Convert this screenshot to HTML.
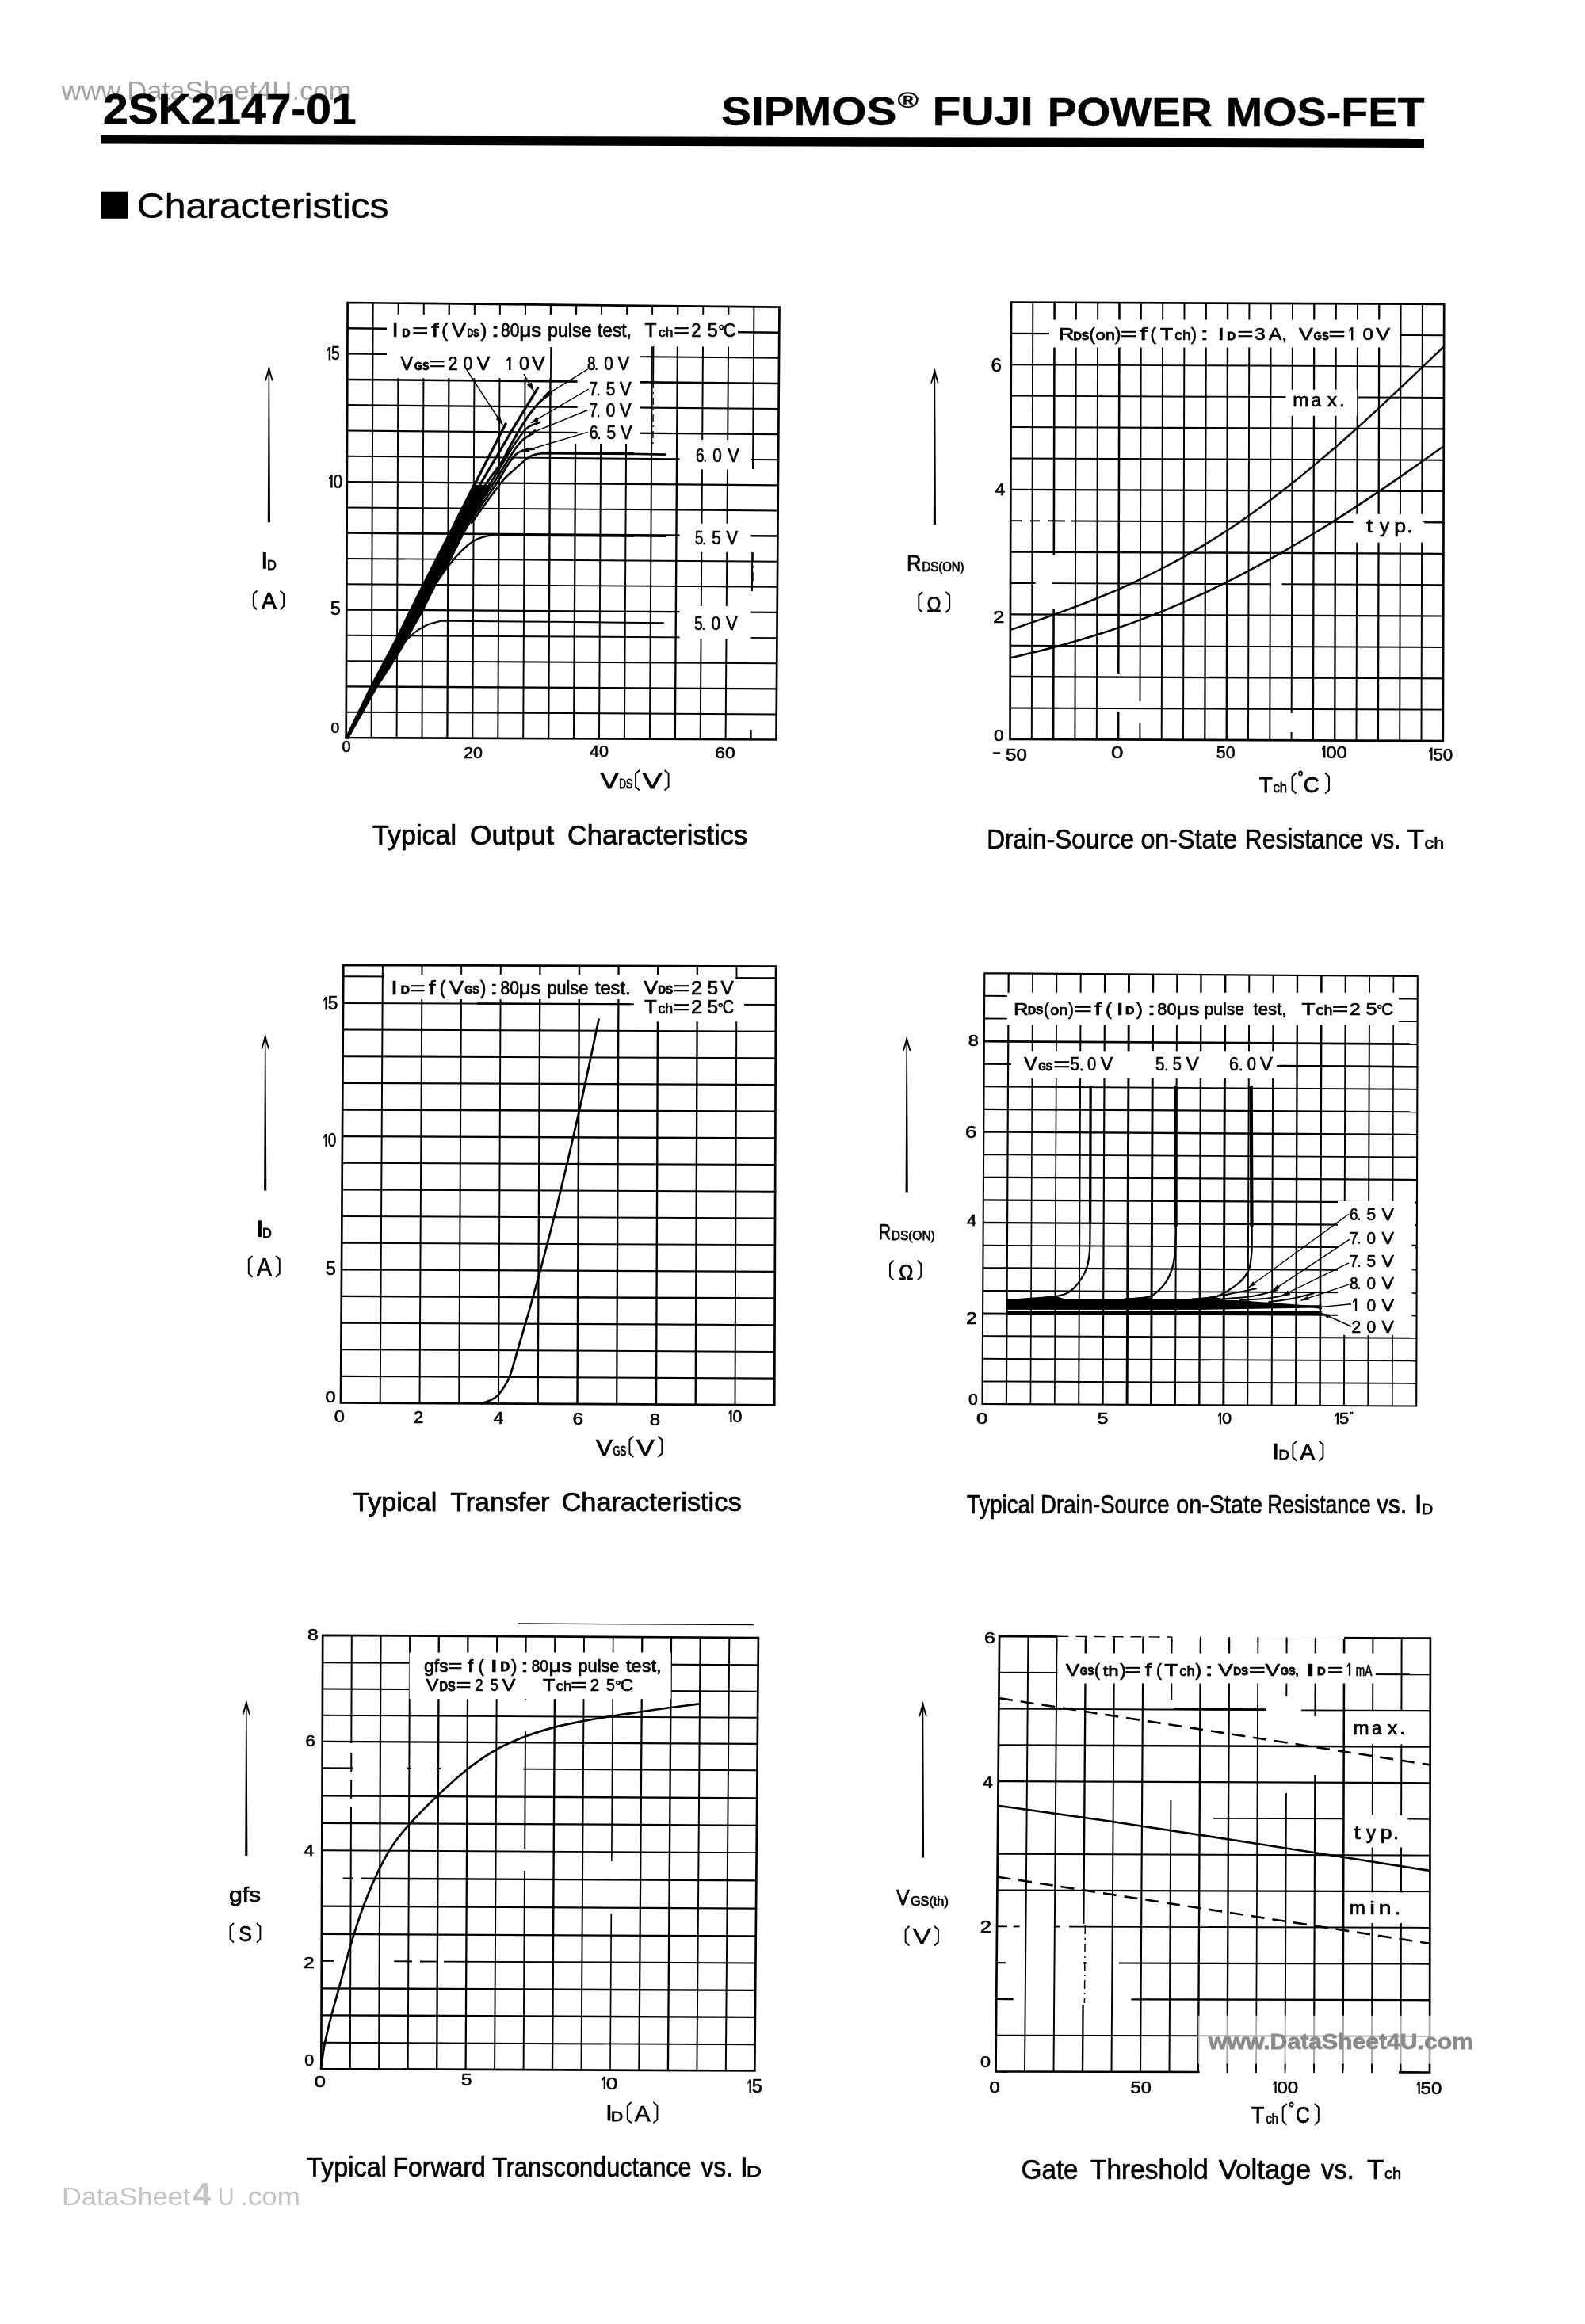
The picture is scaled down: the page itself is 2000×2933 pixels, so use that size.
<!DOCTYPE html>
<html><head><meta charset="utf-8"><title>2SK2147-01</title>
<style>html,body{margin:0;padding:0;background:#fff}svg{display:block;filter:grayscale(1)}text{font-family:"Liberation Sans",sans-serif}</style></head>
<body>
<svg width="2000" height="2933" viewBox="0 0 2000 2933">
<rect width="2000" height="2933" fill="#fff"/>
<!-- header -->
<text x="77.5" y="125.7" font-size="33" textLength="366" lengthAdjust="spacingAndGlyphs" fill="#a4a4a4">www.DataSheet4U.com</text>
<text x="130" y="155.7" font-size="52.8" stroke="#000" stroke-width="0.6" textLength="319.6" lengthAdjust="spacingAndGlyphs" font-weight="bold">2SK2147-01</text>
<text x="910" y="158" font-size="50.7" stroke="#000" stroke-width="0.4" textLength="221.4" lengthAdjust="spacingAndGlyphs" font-weight="bold">SIPMOS</text>
<text x="1132.5" y="136.4" font-size="27" stroke="#000" stroke-width="0.3" textLength="26.5" lengthAdjust="spacingAndGlyphs" font-weight="bold">®</text>
<text x="1176.4" y="158.3" font-size="50.7" stroke="#000" stroke-width="0.4" textLength="127.5" lengthAdjust="spacingAndGlyphs" font-weight="bold">FUJI</text>
<text x="1321.7" y="158.6" font-size="50.7" stroke="#000" stroke-width="0.4" textLength="208" lengthAdjust="spacingAndGlyphs" font-weight="bold">POWER</text>
<text x="1546.7" y="159" font-size="50.7" stroke="#000" stroke-width="0.4" textLength="250.9" lengthAdjust="spacingAndGlyphs" font-weight="bold">MOS-FET</text>
<polygon points="127,170.9 1797,174.7 1797,187 127,181.6" fill="#000"/>
<rect x="128" y="241.7" width="33" height="34.1" fill="#000"/>
<text x="173" y="274.5" font-size="44" stroke="#000" stroke-width="0.5" textLength="317.6" lengthAdjust="spacingAndGlyphs">Characteristics</text>
<!-- chart 1 -->
<line x1="468.6" y1="931.1" x2="470.7" y2="382.3" stroke="#000" stroke-width="1.9500000000000002"/>
<line x1="500.6" y1="931.3" x2="502.7" y2="382.7" stroke="#000" stroke-width="1.9500000000000002"/>
<line x1="532.5" y1="931.4" x2="534.8" y2="383" stroke="#000" stroke-width="1.9500000000000002"/>
<line x1="564.4" y1="931.6" x2="566.8" y2="383.3" stroke="#000" stroke-width="2.25"/>
<line x1="596.3" y1="931.7" x2="598.9" y2="383.6" stroke="#000" stroke-width="1.9500000000000002"/>
<line x1="628.3" y1="931.9" x2="630.9" y2="384" stroke="#000" stroke-width="1.9500000000000002"/>
<line x1="660.2" y1="932" x2="663" y2="384.3" stroke="#000" stroke-width="1.9500000000000002"/>
<line x1="692.1" y1="932.2" x2="695" y2="384.6" stroke="#000" stroke-width="2.35"/>
<line x1="724.1" y1="932.3" x2="726.1" y2="560" stroke="#000" stroke-width="2.25"/>
<line x1="727" y1="397" x2="727.1" y2="385" stroke="#000" stroke-width="2.25"/>
<line x1="756" y1="932.5" x2="758.1" y2="560" stroke="#000" stroke-width="1.9500000000000002"/>
<line x1="759.1" y1="397" x2="759.1" y2="385.3" stroke="#000" stroke-width="1.9500000000000002"/>
<line x1="787.9" y1="932.6" x2="790.1" y2="560" stroke="#000" stroke-width="1.9500000000000002"/>
<line x1="791.1" y1="397" x2="791.2" y2="385.6" stroke="#000" stroke-width="1.9500000000000002"/>
<line x1="819.9" y1="932.8" x2="823.2" y2="386" stroke="#000" stroke-width="1.9500000000000002"/>
<line x1="851.8" y1="932.9" x2="855.3" y2="386.3" stroke="#000" stroke-width="2.35"/>
<line x1="883.7" y1="933.1" x2="887.3" y2="386.6" stroke="#000" stroke-width="1.9500000000000002"/>
<line x1="915.6" y1="933.2" x2="919.4" y2="386.9" stroke="#000" stroke-width="1.9500000000000002"/>
<line x1="947.6" y1="933.4" x2="947.7" y2="921" stroke="#000" stroke-width="1.9500000000000002"/>
<line x1="948.9" y1="746" x2="949.2" y2="697" stroke="#000" stroke-width="1.9500000000000002"/>
<line x1="950" y1="592" x2="951.4" y2="387.3" stroke="#000" stroke-width="1.9500000000000002"/>
<line x1="436.8" y1="898.7" x2="979.7" y2="901.4" stroke="#000" stroke-width="1.9500000000000002"/>
<line x1="436.9" y1="866.4" x2="980" y2="869.3" stroke="#000" stroke-width="2.35"/>
<line x1="437" y1="834.1" x2="980.2" y2="837.2" stroke="#000" stroke-width="1.9500000000000002"/>
<line x1="437.1" y1="801.8" x2="980.4" y2="805.1" stroke="#000" stroke-width="1.9500000000000002"/>
<line x1="437.3" y1="769.5" x2="980.7" y2="772.9" stroke="#000" stroke-width="2.25"/>
<line x1="437.4" y1="737.2" x2="980.9" y2="740.8" stroke="#000" stroke-width="1.9500000000000002"/>
<line x1="437.5" y1="704.9" x2="981.1" y2="708.7" stroke="#000" stroke-width="1.9500000000000002"/>
<line x1="437.6" y1="672.6" x2="981.4" y2="676.6" stroke="#000" stroke-width="2.5500000000000003"/>
<line x1="437.7" y1="640.4" x2="981.6" y2="644.5" stroke="#000" stroke-width="1.9500000000000002"/>
<line x1="437.8" y1="608.1" x2="981.9" y2="612.4" stroke="#000" stroke-width="2.35"/>
<line x1="437.9" y1="575.8" x2="982.1" y2="580.3" stroke="#000" stroke-width="1.9500000000000002"/>
<line x1="438" y1="543.5" x2="982.3" y2="548.2" stroke="#000" stroke-width="2.25"/>
<line x1="438.2" y1="511.2" x2="982.6" y2="516" stroke="#000" stroke-width="2.25"/>
<line x1="438.3" y1="478.9" x2="982.8" y2="483.9" stroke="#000" stroke-width="2.5500000000000003"/>
<line x1="438.4" y1="446.6" x2="983" y2="451.8" stroke="#000" stroke-width="1.9500000000000002"/>
<line x1="438.5" y1="414.3" x2="983.3" y2="419.7" stroke="#000" stroke-width="2.5500000000000003"/>
<rect x="488" y="397" width="443" height="40.5" fill="#fff"/>
<rect x="488" y="437" width="320" height="40.2" fill="#fff"/>
<rect x="728.6" y="437" width="79.4" height="123" fill="#fff"/>
<rect x="857.6" y="555" width="90.4" height="37.5" fill="#fff"/>
<rect x="857.6" y="660.8" width="89.9" height="36" fill="#fff"/>
<rect x="857.6" y="765" width="89.9" height="41.5" fill="#fff"/>
<line x1="695.2" y1="438" x2="694.9" y2="478" stroke="#000" stroke-width="1.8"/>
<line x1="824.6" y1="437" x2="824.3" y2="481" stroke="#000" stroke-width="1.6"/>
<line x1="824.3" y1="481" x2="824" y2="560" stroke="#000" stroke-width="1.4" stroke-dasharray="9 5 2 5"/>
<line x1="950" y1="697" x2="949.8" y2="746" stroke="#000" stroke-width="1.6" stroke-dasharray="12 5 3 5"/>
<polygon points="438.6,382 983.5,387.6 979.5,933.5 436.7,931" fill="none" stroke="#000" stroke-width="2.7"/>
<polygon points="434.3,932 436.1,929.6 467.3,865.3 499.5,804.7 531.7,739.4 550.6,702.5 582.8,640 596.5,612 621,612 604.6,640 601.7,645.7 586.6,672.2 569.5,706.2 550.6,738.4 533.6,772.5 516.5,802.8 501.4,829.3 476.8,867.1 441.5,929.6 439.5,933" fill="#000"/>
<path d="M574 660C578.3 651.5 589.2 630.3 600 609.3C610.8 588.3 632.2 546.4 638.6 533.8" fill="none" stroke="#000" stroke-width="3.3" stroke-linecap="butt"/>
<path d="M577.5 660C582.4 651.6 595.4 629.3 607 609.5C618.6 589.7 637.7 557.2 647.1 541.4C656.5 525.6 657.8 523.7 663.2 514.9C668.6 506.1 676.6 492.8 679.3 488.4" fill="none" stroke="#000" stroke-width="3.2" stroke-linecap="butt"/>
<path d="M581 660C586.5 651.6 605.5 622 614 609.5C622.5 597 626.7 593.1 631.9 584.9C637.1 576.7 640.8 568.2 645.2 560.3C649.6 552.4 654.3 544.2 658.4 537.6C662.5 531 666 525.6 669.8 520.6C673.6 515.6 676.9 511.4 681.1 507.3C685.4 503.2 692.9 497.9 695.3 496" fill="none" stroke="#000" stroke-width="3.0" stroke-linecap="round"/>
<path d="M584.5 660C590.2 651.6 609.2 624.5 619 609.5C628.8 594.5 637.4 579.3 643.3 569.8C649.2 560.3 650.8 557.8 654.6 552.7C658.4 547.7 661.6 542.8 666 539.5C670.4 536.2 678.6 534 681.1 532.9" fill="none" stroke="#000" stroke-width="2.7" stroke-linecap="round"/>
<path d="M588 660C593.8 651.6 612.8 624.9 623 609.5C633.2 594.1 642.8 577 649 567.9C655.2 558.8 655.9 558.4 660.3 554.6C664.7 550.8 673 546.8 675.5 545.2" fill="none" stroke="#000" stroke-width="2.7" stroke-linecap="round"/>
<path d="M591.5 660C597.4 651.6 619 621.4 627 609.5C635 597.6 635.5 594.7 639.5 588.7C643.5 582.7 647 577.1 650.9 573.6C654.8 570.1 659.2 568.6 663 567.5C666.8 566.4 671.8 567.1 673.6 567" fill="none" stroke="#000" stroke-width="2.7" stroke-linecap="round"/>
<path d="M595 660C601.2 651.6 623.3 620.4 632 609.5C640.7 598.6 642.1 599.1 647.1 594.4C652.1 589.7 658.1 584.4 662.2 581.1C666.3 577.8 668.2 576.3 671.7 574.8C675.2 573.3 678.3 572.7 683 572.2C687.7 571.7 687.2 571.8 700 571.8C712.8 571.8 736.8 571.9 760 572.2C783.2 572.5 826 573.4 839.2 573.6" fill="none" stroke="#000" stroke-width="2.6" stroke-linecap="round"/>
<line x1="683" y1="571.9" x2="800" y2="572.6" stroke="#000" stroke-width="3.4"/>
<path d="M540 752C542.1 748.8 547.9 739.4 552.5 732.7C557.1 726 562.6 718.2 567.6 711.9C572.6 705.6 577.8 699.8 582.8 694.9C587.8 690 593.5 685.4 597.9 682.6C602.3 679.8 605.5 679.1 609.3 677.9C613.1 676.7 615.5 676 620.6 675.6C625.7 675.2 620.1 675.2 640 675.2C659.9 675.2 706.8 675.5 740 675.8C773.2 676.1 822.5 676.6 839 676.8" fill="none" stroke="#000" stroke-width="2.4" stroke-linecap="round"/>
<line x1="622" y1="675.3" x2="800" y2="676.3" stroke="#000" stroke-width="3.0"/>
<path d="M498 832C499.7 829 504 819.6 508 814.1C512 808.6 517.3 803.1 522.2 799C527.1 794.9 532.4 791.9 537.4 789.5C542.4 787.1 547.1 785.8 552.5 784.8C557.9 783.8 545.4 783.8 570 783.8C594.6 783.8 655.5 784.4 700 784.8C744.5 785.2 814.2 786 837 786.3" fill="none" stroke="#000" stroke-width="2.0" stroke-linecap="round"/>
<text x="494.5" y="424.9" font-size="24.5" stroke="#000" stroke-width="0.7" textLength="8.2" lengthAdjust="spacingAndGlyphs">I</text>
<text x="507.3" y="424.5" font-size="14" stroke="#000" stroke-width="0.8" textLength="10.3" lengthAdjust="spacingAndGlyphs" font-weight="bold">D</text>
<text x="520.3" y="424.9" font-size="24.5" stroke="#000" stroke-width="0.7" textLength="19.9" lengthAdjust="spacingAndGlyphs">=</text>
<text x="544.3" y="424.9" font-size="24.5" stroke="#000" stroke-width="0.7" textLength="9.3" lengthAdjust="spacingAndGlyphs">f</text>
<text x="557.3" y="424.9" font-size="24.5" stroke="#000" stroke-width="0.7" textLength="7.9" lengthAdjust="spacingAndGlyphs">(</text>
<text x="569.9" y="424.9" font-size="24.5" stroke="#000" stroke-width="0.7" textLength="18" lengthAdjust="spacingAndGlyphs">V</text>
<text x="589.6" y="424.5" font-size="14" stroke="#000" stroke-width="0.8" textLength="14.8" lengthAdjust="spacingAndGlyphs" font-weight="bold">DS</text>
<text x="606.6" y="424.9" font-size="24.5" stroke="#000" stroke-width="0.7" textLength="7.9" lengthAdjust="spacingAndGlyphs">)</text>
<text x="619.4" y="424.9" font-size="24.5" stroke="#000" stroke-width="0.7" textLength="11.1" lengthAdjust="spacingAndGlyphs">:</text>
<text x="632.1" y="424.9" font-size="24.5" stroke="#000" stroke-width="0.7" textLength="23.3" lengthAdjust="spacingAndGlyphs">80</text>
<text x="655.3" y="424.9" font-size="24.5" stroke="#000" stroke-width="0.7" textLength="28" lengthAdjust="spacingAndGlyphs">μs</text>
<text x="691" y="424.9" font-size="24.5" stroke="#000" stroke-width="0.7" textLength="55.6" lengthAdjust="spacingAndGlyphs">pulse</text>
<text x="754" y="424.9" font-size="24.5" stroke="#000" stroke-width="0.7" textLength="42.8" lengthAdjust="spacingAndGlyphs">test,</text>
<text x="813.5" y="424.9" font-size="24.5" stroke="#000" stroke-width="0.7" textLength="15" lengthAdjust="spacingAndGlyphs">T</text>
<text x="831.1" y="424.9" font-size="16.5" stroke="#000" stroke-width="0.7" textLength="18.2" lengthAdjust="spacingAndGlyphs">ch</text>
<text x="850.3" y="424.9" font-size="24.5" stroke="#000" stroke-width="0.7" textLength="19.7" lengthAdjust="spacingAndGlyphs">=</text>
<text x="872.3" y="424.9" font-size="24.5" stroke="#000" stroke-width="0.7" textLength="12.3" lengthAdjust="spacingAndGlyphs">2</text>
<text x="892.6" y="424.9" font-size="24.5" stroke="#000" stroke-width="0.7" textLength="13.3" lengthAdjust="spacingAndGlyphs">5</text>
<text x="906.4" y="424.9" font-size="20" stroke="#000" stroke-width="0.7" textLength="7.6" lengthAdjust="spacingAndGlyphs">°</text>
<text x="912.7" y="424.9" font-size="24.5" stroke="#000" stroke-width="0.7" textLength="15.8" lengthAdjust="spacingAndGlyphs">C</text>
<text x="505.6" y="467" font-size="23" stroke="#000" stroke-width="0.7" textLength="15.5" lengthAdjust="spacingAndGlyphs">V</text>
<text x="522.9" y="466.6" font-size="14" stroke="#000" stroke-width="0.8" textLength="18.6" lengthAdjust="spacingAndGlyphs" font-weight="bold">GS</text>
<text x="541.9" y="467" font-size="23" stroke="#000" stroke-width="0.7" textLength="19.7" lengthAdjust="spacingAndGlyphs">=</text>
<text x="565.2" y="467" font-size="23" stroke="#000" stroke-width="0.7" textLength="12.3" lengthAdjust="spacingAndGlyphs">2</text>
<text x="584.4" y="467" font-size="23" stroke="#000" stroke-width="0.7" textLength="11.7" lengthAdjust="spacingAndGlyphs">0</text>
<text x="601.5" y="467" font-size="23" stroke="#000" stroke-width="0.7" textLength="16.7" lengthAdjust="spacingAndGlyphs">V</text>
<polygon points="642.1,450.5 644.5,450.5 644.5,467 642.1,467 642.1,454.1 639,456.5 639,454.5" fill="#000"/>
<text x="655" y="467" font-size="23" stroke="#000" stroke-width="0.7" textLength="13.1" lengthAdjust="spacingAndGlyphs">0</text>
<text x="670.9" y="467" font-size="23" stroke="#000" stroke-width="0.7" textLength="16.7" lengthAdjust="spacingAndGlyphs">V</text>
<text x="740.9" y="467" font-size="23" stroke="#000" stroke-width="0.7" textLength="10.4" lengthAdjust="spacingAndGlyphs">8</text>
<rect x="751.5" y="464.5" width="2.2" height="2.5" fill="#000"/>
<text x="762.2" y="467" font-size="23" stroke="#000" stroke-width="0.7" textLength="11.5" lengthAdjust="spacingAndGlyphs">0</text>
<text x="779.6" y="467" font-size="23" stroke="#000" stroke-width="0.7" textLength="14.6" lengthAdjust="spacingAndGlyphs">V</text>
<text x="743.2" y="499.1" font-size="23" stroke="#000" stroke-width="0.7" textLength="10.8" lengthAdjust="spacingAndGlyphs">7</text>
<rect x="754" y="496.6" width="2.2" height="2.5" fill="#000"/>
<text x="764.7" y="499.1" font-size="23" stroke="#000" stroke-width="0.7" textLength="11.6" lengthAdjust="spacingAndGlyphs">5</text>
<text x="782.1" y="499.1" font-size="23" stroke="#000" stroke-width="0.7" textLength="14.6" lengthAdjust="spacingAndGlyphs">V</text>
<text x="743.2" y="526.4" font-size="23" stroke="#000" stroke-width="0.7" textLength="10.8" lengthAdjust="spacingAndGlyphs">7</text>
<rect x="754" y="523.9" width="2.2" height="2.5" fill="#000"/>
<text x="764.7" y="526.4" font-size="23" stroke="#000" stroke-width="0.7" textLength="11.5" lengthAdjust="spacingAndGlyphs">0</text>
<text x="782.1" y="526.4" font-size="23" stroke="#000" stroke-width="0.7" textLength="14.6" lengthAdjust="spacingAndGlyphs">V</text>
<text x="744.1" y="554.1" font-size="23" stroke="#000" stroke-width="0.7" textLength="10.5" lengthAdjust="spacingAndGlyphs">6</text>
<rect x="754.8" y="551.6" width="2.2" height="2.5" fill="#000"/>
<text x="765.5" y="554.1" font-size="23" stroke="#000" stroke-width="0.7" textLength="11.6" lengthAdjust="spacingAndGlyphs">5</text>
<text x="782.9" y="554.1" font-size="23" stroke="#000" stroke-width="0.7" textLength="14.6" lengthAdjust="spacingAndGlyphs">V</text>
<text x="877.9" y="582.6" font-size="23" stroke="#000" stroke-width="0.7" textLength="10.5" lengthAdjust="spacingAndGlyphs">6</text>
<rect x="888.6" y="580.1" width="2.2" height="2.5" fill="#000"/>
<text x="899.3" y="582.6" font-size="23" stroke="#000" stroke-width="0.7" textLength="11.5" lengthAdjust="spacingAndGlyphs">0</text>
<text x="918.2" y="582.6" font-size="23" stroke="#000" stroke-width="0.7" textLength="14.6" lengthAdjust="spacingAndGlyphs">V</text>
<text x="877" y="687.3" font-size="23" stroke="#000" stroke-width="0.7" textLength="10.3" lengthAdjust="spacingAndGlyphs">5</text>
<rect x="887.5" y="684.8" width="2.2" height="2.5" fill="#000"/>
<text x="898.2" y="687.3" font-size="23" stroke="#000" stroke-width="0.7" textLength="11.6" lengthAdjust="spacingAndGlyphs">5</text>
<text x="916.4" y="687.3" font-size="23" stroke="#000" stroke-width="0.7" textLength="14.6" lengthAdjust="spacingAndGlyphs">V</text>
<text x="876.2" y="795" font-size="23" stroke="#000" stroke-width="0.7" textLength="10.3" lengthAdjust="spacingAndGlyphs">5</text>
<rect x="886.7" y="792.5" width="2.2" height="2.5" fill="#000"/>
<text x="897.4" y="795" font-size="23" stroke="#000" stroke-width="0.7" textLength="11.5" lengthAdjust="spacingAndGlyphs">0</text>
<text x="916.1" y="795" font-size="23" stroke="#000" stroke-width="0.7" textLength="14.6" lengthAdjust="spacingAndGlyphs">V</text>
<line x1="589" y1="467" x2="634.4" y2="536.5" stroke="#000" stroke-width="1.5"/>
<polygon points="634.4,536.5 625.7,529 631.1,525.5" fill="#000"/>
<line x1="660.9" y1="472.1" x2="673.5" y2="493.6" stroke="#000" stroke-width="1.5"/>
<polygon points="673.5,493.6 665,485.8 670.9,482.4" fill="#000"/>
<line x1="741.7" y1="465.8" x2="684.9" y2="501.1" stroke="#000" stroke-width="1.4"/>
<polygon points="684.9,501.1 692.7,492.7 695.8,497.8" fill="#000"/>
<line x1="742.9" y1="491" x2="669.7" y2="533.9" stroke="#000" stroke-width="1.4"/>
<polygon points="669.7,533.9 676.9,526.4 679.7,531.3" fill="#000"/>
<line x1="741.7" y1="517.5" x2="667.2" y2="547.8" stroke="#000" stroke-width="1.4"/>
<polygon points="667.2,547.8 675.4,541.4 677.5,546.6" fill="#000"/>
<line x1="741.7" y1="545.3" x2="657.1" y2="570.5" stroke="#000" stroke-width="1.4"/>
<polygon points="657.1,570.5 666.8,564.5 668.5,570.2" fill="#000"/>
<polygon points="414.7,437.9 417.1,437.9 417.1,454.4 414.7,454.4 414.7,441.5 412.5,443.9 412.5,441.9" fill="#000"/>
<text x="418.1" y="454.4" font-size="23" stroke="#000" stroke-width="0.6" textLength="10.7" lengthAdjust="spacingAndGlyphs">5</text>
<polygon points="417.2,599.1 419.6,599.1 419.6,615.6 417.2,615.6 417.2,602.7 415,605.1 415,603.1" fill="#000"/>
<text x="420.6" y="615.6" font-size="23" stroke="#000" stroke-width="0.6" textLength="11.7" lengthAdjust="spacingAndGlyphs">0</text>
<text x="416.8" y="776" font-size="23" stroke="#000" stroke-width="0.6" textLength="13.1" lengthAdjust="spacingAndGlyphs">5</text>
<text x="417.4" y="925.2" font-size="18" stroke="#000" stroke-width="0.6" textLength="10.7" lengthAdjust="spacingAndGlyphs">0</text>
<text x="431.4" y="949.4" font-size="20" stroke="#000" stroke-width="0.6" textLength="11.1" lengthAdjust="spacingAndGlyphs">0</text>
<text x="585.1" y="956.7" font-size="20.5" stroke="#000" stroke-width="0.6" textLength="23.9" lengthAdjust="spacingAndGlyphs">20</text>
<text x="744" y="955.4" font-size="20.5" stroke="#000" stroke-width="0.6" textLength="23.9" lengthAdjust="spacingAndGlyphs">40</text>
<text x="902.3" y="956.7" font-size="20.5" stroke="#000" stroke-width="0.6" textLength="25.5" lengthAdjust="spacingAndGlyphs">60</text>
<text x="757.7" y="994.6" font-size="27.4" stroke="#000" stroke-width="0.75" textLength="22.7" lengthAdjust="spacingAndGlyphs">V</text>
<text x="781.3" y="994.6" font-size="16.5" stroke="#000" stroke-width="0.9" textLength="16.6" lengthAdjust="spacingAndGlyphs">DS</text>
<path d="M807 972L802 976.5L802 993L807 997.5" fill="none" stroke="#000" stroke-width="1.9" stroke-linejoin="round"/>
<text x="810.7" y="994.6" font-size="27.4" stroke="#000" stroke-width="0.75" textLength="24.6" lengthAdjust="spacingAndGlyphs">V</text>
<path d="M838.6 972L843.6 976.5L843.6 993L838.6 997.5" fill="none" stroke="#000" stroke-width="1.9" stroke-linejoin="round"/>
<polygon points="338.7,463.3 340.1,463.3 341,659.2 337.8,659.2" fill="#000"/>
<polygon points="339.4,461.3 344.6,480.3 343,480.8 339.4,469.3 335.8,480.8 334.2,480.3" fill="#000"/>
<rect x="331.8" y="697" width="4" height="20.8" fill="#000"/>
<text x="337.2" y="718.6" font-size="16.7" stroke="#000" stroke-width="0.9" textLength="11.5" lengthAdjust="spacingAndGlyphs">D</text>
<path d="M324.3 745.5L319.8 750L319.8 764.9L324.3 769.4" fill="none" stroke="#000" stroke-width="1.9" stroke-linejoin="round"/>
<text x="330" y="767.7" font-size="28.9" stroke="#000" stroke-width="0.75" textLength="18.8" lengthAdjust="spacingAndGlyphs">A</text>
<path d="M353.6 745.5L358.1 750L358.1 764.9L353.6 769.4" fill="none" stroke="#000" stroke-width="1.9" stroke-linejoin="round"/>
<text x="470" y="1065.7" font-size="34.4" stroke="#000" stroke-width="0.75" textLength="106" lengthAdjust="spacingAndGlyphs">Typical</text>
<text x="593" y="1065.7" font-size="34.4" stroke="#000" stroke-width="0.75" textLength="106" lengthAdjust="spacingAndGlyphs">Output</text>
<text x="716" y="1065.7" font-size="34.4" stroke="#000" stroke-width="0.75" textLength="227.1" lengthAdjust="spacingAndGlyphs">Characteristics</text>
<!-- chart 2 -->
<line x1="1301.8" y1="932.9" x2="1303.3" y2="381.6" stroke="#000" stroke-width="1.9500000000000002"/>
<line x1="1329.1" y1="933" x2="1329.6" y2="768" stroke="#000" stroke-width="2.5500000000000003"/>
<line x1="1329.8" y1="700" x2="1330.6" y2="381.7" stroke="#000" stroke-width="2.5500000000000003"/>
<line x1="1356.4" y1="933.1" x2="1357.9" y2="381.8" stroke="#000" stroke-width="1.9500000000000002"/>
<line x1="1383.8" y1="933.2" x2="1385.2" y2="382" stroke="#000" stroke-width="1.9500000000000002"/>
<line x1="1411.1" y1="933.3" x2="1411.2" y2="898" stroke="#000" stroke-width="2.5500000000000003"/>
<line x1="1411.3" y1="850" x2="1412.5" y2="382.1" stroke="#000" stroke-width="2.5500000000000003"/>
<line x1="1438.4" y1="933.5" x2="1438.4" y2="912" stroke="#000" stroke-width="1.9500000000000002"/>
<line x1="1438.5" y1="885" x2="1439.9" y2="382.2" stroke="#000" stroke-width="1.9500000000000002"/>
<line x1="1465.7" y1="933.6" x2="1467.2" y2="382.3" stroke="#000" stroke-width="1.9500000000000002"/>
<line x1="1493" y1="933.7" x2="1494.5" y2="382.4" stroke="#000" stroke-width="1.9500000000000002"/>
<line x1="1520.3" y1="933.8" x2="1521.8" y2="382.5" stroke="#000" stroke-width="2.25"/>
<line x1="1547.7" y1="933.9" x2="1549.1" y2="382.6" stroke="#000" stroke-width="2.35"/>
<line x1="1575" y1="934" x2="1576.4" y2="382.8" stroke="#000" stroke-width="1.9500000000000002"/>
<line x1="1602.3" y1="934.1" x2="1603.7" y2="382.9" stroke="#000" stroke-width="1.9500000000000002"/>
<line x1="1629.6" y1="934.2" x2="1629.6" y2="924" stroke="#000" stroke-width="1.9500000000000002"/>
<line x1="1629.7" y1="900" x2="1631" y2="383" stroke="#000" stroke-width="1.9500000000000002"/>
<line x1="1656.9" y1="934.3" x2="1658.3" y2="383.1" stroke="#000" stroke-width="2.25"/>
<line x1="1684.2" y1="934.5" x2="1685.7" y2="383.2" stroke="#000" stroke-width="2.35"/>
<line x1="1711.5" y1="934.6" x2="1713" y2="383.3" stroke="#000" stroke-width="1.9500000000000002"/>
<line x1="1738.9" y1="934.7" x2="1740.3" y2="383.5" stroke="#000" stroke-width="2.25"/>
<line x1="1766.2" y1="934.8" x2="1767.6" y2="383.6" stroke="#000" stroke-width="1.9500000000000002"/>
<line x1="1793.5" y1="934.9" x2="1794.9" y2="383.7" stroke="#000" stroke-width="1.9500000000000002"/>
<line x1="1274.6" y1="893.4" x2="1820.9" y2="895.6" stroke="#000" stroke-width="1.9500000000000002"/>
<line x1="1274.7" y1="854" x2="1821" y2="856.3" stroke="#000" stroke-width="2.35"/>
<line x1="1274.8" y1="814.7" x2="1821.1" y2="816.9" stroke="#000" stroke-width="1.9500000000000002"/>
<line x1="1274.9" y1="775.3" x2="1821.2" y2="777.5" stroke="#000" stroke-width="2.15"/>
<line x1="1275" y1="735.9" x2="1306.5" y2="736" stroke="#000" stroke-width="1.9500000000000002"/>
<line x1="1328" y1="736.1" x2="1603.8" y2="737.3" stroke="#000" stroke-width="1.9500000000000002"/>
<line x1="1617.5" y1="737.3" x2="1821.3" y2="738.1" stroke="#000" stroke-width="1.9500000000000002"/>
<line x1="1275.1" y1="696.5" x2="1821.4" y2="698.8" stroke="#000" stroke-width="2.35"/>
<line x1="1275.2" y1="657.1" x2="1290" y2="657.2" stroke="#000" stroke-width="1.9500000000000002"/>
<line x1="1300" y1="657.3" x2="1312" y2="657.3" stroke="#000" stroke-width="1.9500000000000002"/>
<line x1="1322" y1="657.3" x2="1344" y2="657.4" stroke="#000" stroke-width="1.9500000000000002"/>
<line x1="1352" y1="657.5" x2="1821.5" y2="659.4" stroke="#000" stroke-width="1.9500000000000002"/>
<line x1="1275.4" y1="617.8" x2="1821.6" y2="620" stroke="#000" stroke-width="2.15"/>
<line x1="1275.5" y1="578.4" x2="1821.7" y2="580.7" stroke="#000" stroke-width="1.9500000000000002"/>
<line x1="1275.6" y1="539" x2="1821.8" y2="541.3" stroke="#000" stroke-width="2.15"/>
<line x1="1275.7" y1="499.6" x2="1821.9" y2="501.9" stroke="#000" stroke-width="1.9500000000000002"/>
<line x1="1275.8" y1="460.3" x2="1822" y2="462.5" stroke="#000" stroke-width="1.85"/>
<line x1="1275.9" y1="420.9" x2="1822.1" y2="423.2" stroke="#000" stroke-width="2.15"/>
<rect x="1324" y="403.5" width="442.5" height="35" fill="#fff"/>
<rect x="1622.5" y="491.7" width="89.7" height="33.1" fill="#fff"/>
<rect x="1707.6" y="648.8" width="89.7" height="35.9" fill="#fff"/>
<line x1="1794.8" y1="657.8" x2="1822" y2="657.9" stroke="#000" stroke-width="1.8"/>
<polygon points="1276,381.5 1822.2,383.8 1820.8,935 1274.5,932.8" fill="none" stroke="#000" stroke-width="2.7"/>
<path d="M1276 794.6C1282.5 792.4 1302 785.7 1315 781.1C1328 776.5 1341 771.8 1354 766.9C1367 762 1380 756.9 1393 751.5C1406 746.1 1419.1 740.4 1432.1 734.3C1445.1 728.2 1458.1 721.8 1471.1 715C1484.1 708.2 1497.1 701 1510.1 693.3C1523.1 685.6 1536.1 677.5 1549.1 669C1562.1 660.5 1575.1 651.4 1588.1 642C1601.1 632.6 1614.1 622.7 1627.1 612.5C1640.1 602.3 1653.1 591.6 1666.1 580.6C1679.1 569.6 1692.2 558.3 1705.2 546.7C1718.2 535.1 1731.2 523.2 1744.2 511.1C1757.2 499 1770.2 486.6 1783.2 474.3C1796.2 462 1815.7 443.3 1822.2 437.1" fill="none" stroke="#000" stroke-width="2.5" stroke-linecap="butt"/>
<path d="M1276 830.1C1282.5 828.5 1302 824.1 1315 820.8C1328 817.5 1341 814 1354 810.3C1367 806.5 1380 802.5 1393 798.3C1406 794 1419.1 789.6 1432.1 784.8C1445.1 780 1458.1 775 1471.1 769.6C1484.1 764.2 1497.1 758.6 1510.1 752.7C1523.1 746.8 1536.1 740.5 1549.1 734C1562.1 727.5 1575.1 720.8 1588.1 713.7C1601.1 706.7 1614.1 699.3 1627.1 691.7C1640.1 684.1 1653.1 676.3 1666.1 668.3C1679.1 660.2 1692.2 651.9 1705.2 643.4C1718.2 634.9 1731.2 626.2 1744.2 617.4C1757.2 608.6 1770.2 599.5 1783.2 590.4C1796.2 581.3 1815.7 567.3 1822.2 562.7" fill="none" stroke="#000" stroke-width="2.5" stroke-linecap="butt"/>
<text x="1335.8" y="429.3" font-size="22.7" stroke="#000" stroke-width="0.7" textLength="19.7" lengthAdjust="spacingAndGlyphs">R</text>
<text x="1354.5" y="428.9" font-size="15" stroke="#000" stroke-width="0.8" textLength="19.8" lengthAdjust="spacingAndGlyphs" font-weight="bold">DS</text>
<text x="1374.4" y="429.3" font-size="22.7" stroke="#000" stroke-width="0.7" textLength="7.3" lengthAdjust="spacingAndGlyphs">(</text>
<text x="1382.4" y="429.3" font-size="18.5" stroke="#000" stroke-width="0.7" textLength="24.7" lengthAdjust="spacingAndGlyphs">on</text>
<text x="1406.9" y="429.3" font-size="22.7" stroke="#000" stroke-width="0.7" textLength="7.4" lengthAdjust="spacingAndGlyphs">)</text>
<text x="1414.1" y="429.3" font-size="22.7" stroke="#000" stroke-width="0.7" textLength="20.2" lengthAdjust="spacingAndGlyphs">=</text>
<text x="1437.9" y="429.3" font-size="22.7" stroke="#000" stroke-width="0.7" textLength="9.7" lengthAdjust="spacingAndGlyphs">f</text>
<text x="1451.6" y="429.3" font-size="22.7" stroke="#000" stroke-width="0.7" textLength="7.3" lengthAdjust="spacingAndGlyphs">(</text>
<text x="1464" y="429.3" font-size="22.7" stroke="#000" stroke-width="0.7" textLength="16.2" lengthAdjust="spacingAndGlyphs">T</text>
<text x="1482.3" y="429.3" font-size="19" stroke="#000" stroke-width="0.7" textLength="20.3" lengthAdjust="spacingAndGlyphs">ch</text>
<text x="1502.7" y="429.3" font-size="22.7" stroke="#000" stroke-width="0.7" textLength="7.3" lengthAdjust="spacingAndGlyphs">)</text>
<text x="1514.3" y="429.3" font-size="22.7" stroke="#000" stroke-width="0.7" textLength="11.1" lengthAdjust="spacingAndGlyphs">:</text>
<text x="1536.4" y="429.3" font-size="22.7" stroke="#000" stroke-width="0.7" textLength="8.5" lengthAdjust="spacingAndGlyphs">I</text>
<text x="1548.2" y="428.9" font-size="15" stroke="#000" stroke-width="0.8" textLength="10.9" lengthAdjust="spacingAndGlyphs" font-weight="bold">D</text>
<text x="1561.5" y="429.3" font-size="22.7" stroke="#000" stroke-width="0.7" textLength="19.9" lengthAdjust="spacingAndGlyphs">=</text>
<text x="1583" y="429.3" font-size="22.7" stroke="#000" stroke-width="0.7" textLength="13.7" lengthAdjust="spacingAndGlyphs">3</text>
<text x="1600.9" y="429.3" font-size="22.7" stroke="#000" stroke-width="0.7" textLength="23.1" lengthAdjust="spacingAndGlyphs">A,</text>
<text x="1639.1" y="429.3" font-size="22.7" stroke="#000" stroke-width="0.7" textLength="17.7" lengthAdjust="spacingAndGlyphs">V</text>
<text x="1657.5" y="428.9" font-size="15" stroke="#000" stroke-width="0.8" textLength="19.3" lengthAdjust="spacingAndGlyphs" font-weight="bold">GS</text>
<text x="1676.6" y="429.3" font-size="22.7" stroke="#000" stroke-width="0.7" textLength="21" lengthAdjust="spacingAndGlyphs">=</text>
<polygon points="1705,413 1707.4,413 1707.4,429.3 1705,429.3 1705,416.6 1702.2,419 1702.2,417" fill="#000"/>
<text x="1719.5" y="429.3" font-size="22.7" stroke="#000" stroke-width="0.7" textLength="13.3" lengthAdjust="spacingAndGlyphs">0</text>
<text x="1736.3" y="429.3" font-size="22.7" stroke="#000" stroke-width="0.7" textLength="17.7" lengthAdjust="spacingAndGlyphs">V</text>
<text x="1631.3" y="513.4" font-size="23.7" stroke="#000" stroke-width="0.7" textLength="20.2" lengthAdjust="spacingAndGlyphs">m</text>
<text x="1654.6" y="513.4" font-size="23.7" stroke="#000" stroke-width="0.7" textLength="12.4" lengthAdjust="spacingAndGlyphs">a</text>
<text x="1674.8" y="513.4" font-size="23.7" stroke="#000" stroke-width="0.7" textLength="12.5" lengthAdjust="spacingAndGlyphs">x</text>
<rect x="1691.8" y="510.1" width="3" height="3.3" fill="#000"/>
<text x="1724.3" y="672.4" font-size="23.7" stroke="#000" stroke-width="0.7" textLength="8" lengthAdjust="spacingAndGlyphs">t</text>
<text x="1740.9" y="672.4" font-size="23.7" stroke="#000" stroke-width="0.7" textLength="12.1" lengthAdjust="spacingAndGlyphs">y</text>
<text x="1759.3" y="672.4" font-size="23.7" stroke="#000" stroke-width="0.7" textLength="14.8" lengthAdjust="spacingAndGlyphs">p</text>
<rect x="1777.2" y="669.1" width="3" height="3.3" fill="#000"/>
<text x="1250.5" y="469" font-size="23" stroke="#000" stroke-width="0.6" textLength="13.4" lengthAdjust="spacingAndGlyphs">6</text>
<text x="1255.8" y="624.8" font-size="21.5" stroke="#000" stroke-width="0.6" textLength="12.3" lengthAdjust="spacingAndGlyphs">4</text>
<text x="1253.2" y="785.7" font-size="21.5" stroke="#000" stroke-width="0.6" textLength="14.1" lengthAdjust="spacingAndGlyphs">2</text>
<text x="1254.1" y="934.5" font-size="19.5" stroke="#000" stroke-width="0.6" textLength="12.7" lengthAdjust="spacingAndGlyphs">0</text>
<rect x="1253" y="949.3" width="9" height="1.9" fill="#000"/>
<text x="1269" y="959.6" font-size="22.5" stroke="#000" stroke-width="0.6" textLength="26.9" lengthAdjust="spacingAndGlyphs">50</text>
<text x="1401.9" y="956.5" font-size="22" stroke="#000" stroke-width="0.6" textLength="15.5" lengthAdjust="spacingAndGlyphs">0</text>
<text x="1534.8" y="956.5" font-size="22" stroke="#000" stroke-width="0.6" textLength="23.8" lengthAdjust="spacingAndGlyphs">50</text>
<polygon points="1670.1,940.7 1672.4,940.7 1672.4,956.5 1670.1,956.5 1670.1,944.2 1668,946.5 1668,944.6" fill="#000"/>
<text x="1673.2" y="956.5" font-size="22" stroke="#000" stroke-width="0.6" textLength="26.7" lengthAdjust="spacingAndGlyphs">00</text>
<polygon points="1805.2,943.5 1807.5,943.5 1807.5,959.6 1805.2,959.6 1805.2,947 1803,949.4 1803,947.4" fill="#000"/>
<text x="1808.4" y="959.6" font-size="22.5" stroke="#000" stroke-width="0.6" textLength="24.9" lengthAdjust="spacingAndGlyphs">50</text>
<text x="1588.7" y="999.5" font-size="28" stroke="#000" stroke-width="0.75" textLength="17" lengthAdjust="spacingAndGlyphs">T</text>
<text x="1606.5" y="999.8" font-size="19" stroke="#000" stroke-width="0.75" textLength="17.5" lengthAdjust="spacingAndGlyphs">ch</text>
<path d="M1635.5 975.5L1630.5 980L1630.5 997L1635.5 1001.5" fill="none" stroke="#000" stroke-width="1.9" stroke-linejoin="round"/>
<text x="1637" y="989" font-size="24" stroke="#000" stroke-width="0.75" textLength="8" lengthAdjust="spacingAndGlyphs">°</text>
<text x="1644.5" y="999.5" font-size="28" stroke="#000" stroke-width="0.75" textLength="20.5" lengthAdjust="spacingAndGlyphs">C</text>
<path d="M1672 975.5L1677 980L1677 997L1672 1001.5" fill="none" stroke="#000" stroke-width="1.9" stroke-linejoin="round"/>
<polygon points="1178.7,466.4 1180.1,466.4 1181,662.3 1177.8,662.3" fill="#000"/>
<polygon points="1179.4,464.4 1184.6,483.4 1183,483.9 1179.4,472.4 1175.8,483.9 1174.2,483.4" fill="#000"/>
<text x="1144" y="720.3" font-size="27.6" stroke="#000" stroke-width="0.75" textLength="18.5" lengthAdjust="spacingAndGlyphs">R</text>
<text x="1163.5" y="720.8" font-size="16.5" stroke="#000" stroke-width="0.75" textLength="53" lengthAdjust="spacingAndGlyphs">DS(ON)</text>
<path d="M1164.1 747L1159.3 751.5L1159.3 768.5L1164.1 773" fill="none" stroke="#000" stroke-width="1.9" stroke-linejoin="round"/>
<text x="1169.5" y="771.5" font-size="27" stroke="#000" stroke-width="0.75" textLength="18" lengthAdjust="spacingAndGlyphs">Ω</text>
<path d="M1193.4 747L1198.2 751.5L1198.2 768.5L1193.4 773" fill="none" stroke="#000" stroke-width="1.9" stroke-linejoin="round"/>
<text x="1245.2" y="1071.4" font-size="34.5" stroke="#000" stroke-width="0.7" textLength="186" lengthAdjust="spacingAndGlyphs">Drain-Source</text>
<text x="1439.4" y="1071.4" font-size="34.5" stroke="#000" stroke-width="0.7" textLength="122.1" lengthAdjust="spacingAndGlyphs">on-State</text>
<text x="1570.8" y="1071.4" font-size="34.5" stroke="#000" stroke-width="0.7" textLength="149.6" lengthAdjust="spacingAndGlyphs">Resistance</text>
<text x="1729.9" y="1071.4" font-size="34.5" stroke="#000" stroke-width="0.7" textLength="37.4" lengthAdjust="spacingAndGlyphs">vs.</text>
<text x="1775.7" y="1071.4" font-size="34.5" stroke="#000" stroke-width="0.7" textLength="21.3" lengthAdjust="spacingAndGlyphs">T</text>
<text x="1797.6" y="1071.4" font-size="21" stroke="#000" stroke-width="0.7" textLength="24.6" lengthAdjust="spacingAndGlyphs">ch</text>
<!-- chart 3 -->
<line x1="479.7" y1="1770.8" x2="482.9" y2="1218" stroke="#000" stroke-width="1.9500000000000002"/>
<line x1="529.5" y1="1771" x2="532.5" y2="1218.1" stroke="#000" stroke-width="1.9500000000000002"/>
<line x1="579.2" y1="1771.3" x2="582.2" y2="1218.3" stroke="#000" stroke-width="1.9500000000000002"/>
<line x1="629" y1="1771.5" x2="631.8" y2="1218.5" stroke="#000" stroke-width="1.9500000000000002"/>
<line x1="678.7" y1="1771.8" x2="681.4" y2="1218.7" stroke="#000" stroke-width="2.25"/>
<line x1="728.5" y1="1772" x2="731" y2="1218.8" stroke="#000" stroke-width="2.45"/>
<line x1="778.2" y1="1772.3" x2="780.6" y2="1219" stroke="#000" stroke-width="2.25"/>
<line x1="828" y1="1772.5" x2="830.2" y2="1219.2" stroke="#000" stroke-width="2.35"/>
<line x1="877.7" y1="1772.8" x2="879.9" y2="1219.4" stroke="#000" stroke-width="2.35"/>
<line x1="927.5" y1="1773" x2="929.5" y2="1219.5" stroke="#000" stroke-width="1.9500000000000002"/>
<line x1="430.2" y1="1736.9" x2="977.3" y2="1739.6" stroke="#000" stroke-width="2.15"/>
<line x1="430.4" y1="1703.2" x2="977.4" y2="1705.9" stroke="#000" stroke-width="1.9500000000000002"/>
<line x1="430.6" y1="1669.6" x2="977.5" y2="1672.2" stroke="#000" stroke-width="2.15"/>
<line x1="430.8" y1="1635.9" x2="977.7" y2="1638.5" stroke="#000" stroke-width="2.35"/>
<line x1="431" y1="1602.3" x2="977.8" y2="1604.8" stroke="#000" stroke-width="2.35"/>
<line x1="431.2" y1="1568.7" x2="977.9" y2="1571.1" stroke="#000" stroke-width="1.9500000000000002"/>
<line x1="431.4" y1="1535" x2="978" y2="1537.4" stroke="#000" stroke-width="1.9500000000000002"/>
<line x1="431.6" y1="1501.4" x2="978.1" y2="1503.7" stroke="#000" stroke-width="1.9500000000000002"/>
<line x1="431.8" y1="1467.7" x2="978.2" y2="1470" stroke="#000" stroke-width="2.15"/>
<line x1="432" y1="1434.1" x2="978.4" y2="1436.4" stroke="#000" stroke-width="2.35"/>
<line x1="432.2" y1="1400.5" x2="978.5" y2="1402.7" stroke="#000" stroke-width="2.45"/>
<line x1="432.4" y1="1366.8" x2="978.6" y2="1369" stroke="#000" stroke-width="2.25"/>
<line x1="432.6" y1="1333.2" x2="978.7" y2="1335.3" stroke="#000" stroke-width="1.9500000000000002"/>
<line x1="432.8" y1="1299.5" x2="978.8" y2="1301.6" stroke="#000" stroke-width="1.9500000000000002"/>
<line x1="433" y1="1265.9" x2="978.9" y2="1267.9" stroke="#000" stroke-width="1.9500000000000002"/>
<line x1="433.2" y1="1232.3" x2="979.1" y2="1234.2" stroke="#000" stroke-width="1.9500000000000002"/>
<rect x="484" y="1230.3" width="444.3" height="30.7" fill="#fff"/>
<rect x="927.5" y="1235.5" width="4" height="53.5" fill="#fff"/>
<rect x="800" y="1260" width="139" height="29.3" fill="#fff"/>
<line x1="601.8" y1="1266.5" x2="795.3" y2="1267.2" stroke="#000" stroke-width="2.3"/>
<polygon points="433.3,1217.8 979.1,1219.7 977.2,1773.3 430,1770.5" fill="none" stroke="#000" stroke-width="2.7"/>
<path d="M606.3 1771.4C608.2 1770.8 613.8 1769.6 617.6 1767.7C621.4 1765.8 624.8 1765 629 1760C633.2 1755 638.9 1746.9 642.9 1737.4C646.9 1728 649.7 1715.3 653.3 1703.3C656.9 1691.3 660.4 1679.4 664.4 1665.5C668.4 1651.6 672.9 1635.9 677.2 1620C681.6 1604.1 686.2 1586.7 690.5 1570C694.8 1553.3 698.7 1538.3 703.2 1520C707.7 1501.7 712.9 1480 717.6 1460C722.3 1440 726.8 1420 731.3 1400C735.8 1380 740.2 1359.1 744.3 1340C748.4 1320.9 753.8 1294.3 755.7 1285.2" fill="none" stroke="#000" stroke-width="2.7" stroke-linecap="butt"/>
<text x="493.3" y="1254.6" font-size="23" stroke="#000" stroke-width="0.7" textLength="8.5" lengthAdjust="spacingAndGlyphs">I</text>
<text x="505.7" y="1254.2" font-size="15" stroke="#000" stroke-width="0.8" textLength="11.3" lengthAdjust="spacingAndGlyphs" font-weight="bold">D</text>
<text x="517.6" y="1254.6" font-size="23" stroke="#000" stroke-width="0.7" textLength="19.1" lengthAdjust="spacingAndGlyphs">=</text>
<text x="541" y="1254.6" font-size="23" stroke="#000" stroke-width="0.7" textLength="8.5" lengthAdjust="spacingAndGlyphs">f</text>
<text x="554.7" y="1254.6" font-size="23" stroke="#000" stroke-width="0.7" textLength="7.3" lengthAdjust="spacingAndGlyphs">(</text>
<text x="566.9" y="1254.6" font-size="23" stroke="#000" stroke-width="0.7" textLength="17.8" lengthAdjust="spacingAndGlyphs">V</text>
<text x="586.3" y="1254.2" font-size="15" stroke="#000" stroke-width="0.8" textLength="18.4" lengthAdjust="spacingAndGlyphs" font-weight="bold">GS</text>
<text x="606.1" y="1254.6" font-size="23" stroke="#000" stroke-width="0.7" textLength="7.3" lengthAdjust="spacingAndGlyphs">)</text>
<text x="618.3" y="1254.6" font-size="23" stroke="#000" stroke-width="0.7" textLength="10.2" lengthAdjust="spacingAndGlyphs">:</text>
<text x="631.5" y="1254.6" font-size="23" stroke="#000" stroke-width="0.7" textLength="23.4" lengthAdjust="spacingAndGlyphs">80</text>
<text x="654.7" y="1254.6" font-size="23" stroke="#000" stroke-width="0.7" textLength="27.9" lengthAdjust="spacingAndGlyphs">μs</text>
<text x="690.4" y="1254.6" font-size="23" stroke="#000" stroke-width="0.7" textLength="51.8" lengthAdjust="spacingAndGlyphs">pulse</text>
<text x="750.9" y="1254.6" font-size="23" stroke="#000" stroke-width="0.7" textLength="44.7" lengthAdjust="spacingAndGlyphs">test.</text>
<text x="812.2" y="1254.6" font-size="23" stroke="#000" stroke-width="0.7" textLength="17.7" lengthAdjust="spacingAndGlyphs">V</text>
<text x="830.2" y="1254.2" font-size="15" stroke="#000" stroke-width="0.8" textLength="18.8" lengthAdjust="spacingAndGlyphs" font-weight="bold">DS</text>
<text x="849.6" y="1254.6" font-size="23" stroke="#000" stroke-width="0.7" textLength="21.1" lengthAdjust="spacingAndGlyphs">=</text>
<text x="871.9" y="1254.6" font-size="23" stroke="#000" stroke-width="0.7" textLength="14.2" lengthAdjust="spacingAndGlyphs">2</text>
<text x="892.5" y="1254.6" font-size="23" stroke="#000" stroke-width="0.7" textLength="13.6" lengthAdjust="spacingAndGlyphs">5</text>
<text x="909.4" y="1254.6" font-size="23" stroke="#000" stroke-width="0.7" textLength="16.2" lengthAdjust="spacingAndGlyphs">V</text>
<text x="813.2" y="1278.7" font-size="23" stroke="#000" stroke-width="0.7" textLength="15.5" lengthAdjust="spacingAndGlyphs">T</text>
<text x="830.4" y="1278.7" font-size="19" stroke="#000" stroke-width="0.7" textLength="18.8" lengthAdjust="spacingAndGlyphs">ch</text>
<text x="849.6" y="1278.7" font-size="23" stroke="#000" stroke-width="0.7" textLength="21.1" lengthAdjust="spacingAndGlyphs">=</text>
<text x="871.9" y="1278.7" font-size="23" stroke="#000" stroke-width="0.7" textLength="14.2" lengthAdjust="spacingAndGlyphs">2</text>
<text x="892.5" y="1278.7" font-size="23" stroke="#000" stroke-width="0.7" textLength="13.6" lengthAdjust="spacingAndGlyphs">5</text>
<text x="905.5" y="1278.7" font-size="19" stroke="#000" stroke-width="0.7" textLength="7.4" lengthAdjust="spacingAndGlyphs">°</text>
<text x="911.8" y="1278.7" font-size="23" stroke="#000" stroke-width="0.7" textLength="14.3" lengthAdjust="spacingAndGlyphs">C</text>
<polygon points="410.4,1257.9 412.8,1257.9 412.8,1274.4 410.4,1274.4 410.4,1261.5 408.2,1263.9 408.2,1261.9" fill="#000"/>
<text x="413.7" y="1274.4" font-size="23" stroke="#000" stroke-width="0.6" textLength="12.6" lengthAdjust="spacingAndGlyphs">5</text>
<polygon points="410.4,1430.9 412.8,1430.9 412.8,1447.4 410.4,1447.4 410.4,1434.5 408.2,1436.9 408.2,1434.9" fill="#000"/>
<text x="413.8" y="1447.4" font-size="23" stroke="#000" stroke-width="0.6" textLength="10.5" lengthAdjust="spacingAndGlyphs">0</text>
<text x="410.8" y="1609.2" font-size="23" stroke="#000" stroke-width="0.6" textLength="13.1" lengthAdjust="spacingAndGlyphs">5</text>
<text x="410.5" y="1769.5" font-size="20.3" stroke="#000" stroke-width="0.6" textLength="13.1" lengthAdjust="spacingAndGlyphs">0</text>
<text x="421.8" y="1794.9" font-size="21.2" stroke="#000" stroke-width="0.6" textLength="13.1" lengthAdjust="spacingAndGlyphs">0</text>
<text x="521.9" y="1796" font-size="21.2" stroke="#000" stroke-width="0.6" textLength="12.2" lengthAdjust="spacingAndGlyphs">2</text>
<text x="622.8" y="1796.8" font-size="21.2" stroke="#000" stroke-width="0.6" textLength="12.6" lengthAdjust="spacingAndGlyphs">4</text>
<text x="722.4" y="1797.9" font-size="21.2" stroke="#000" stroke-width="0.6" textLength="13.6" lengthAdjust="spacingAndGlyphs">6</text>
<text x="819.8" y="1798.7" font-size="21.2" stroke="#000" stroke-width="0.6" textLength="13.4" lengthAdjust="spacingAndGlyphs">8</text>
<polygon points="921.3,1779.7 923.5,1779.7 923.5,1794.9 921.3,1794.9 921.3,1783 919.3,1785.3 919.3,1783.4" fill="#000"/>
<text x="924.5" y="1794.9" font-size="21.2" stroke="#000" stroke-width="0.6" textLength="11.9" lengthAdjust="spacingAndGlyphs">0</text>
<text x="752" y="1836.5" font-size="29" stroke="#000" stroke-width="0.75" textLength="20.8" lengthAdjust="spacingAndGlyphs">V</text>
<text x="773.4" y="1836.5" font-size="16.5" stroke="#000" stroke-width="0.9" textLength="17" lengthAdjust="spacingAndGlyphs">GS</text>
<path d="M799.4 1812.5L794.4 1817L794.4 1834.5L799.4 1839" fill="none" stroke="#000" stroke-width="1.9" stroke-linejoin="round"/>
<text x="803.1" y="1836.5" font-size="29" stroke="#000" stroke-width="0.75" textLength="22.7" lengthAdjust="spacingAndGlyphs">V</text>
<path d="M830.3 1812.5L835.3 1817L835.3 1834.5L830.3 1839" fill="none" stroke="#000" stroke-width="1.9" stroke-linejoin="round"/>
<polygon points="334,1306.5 335.4,1306.5 336.3,1502.5 333.1,1502.5" fill="#000"/>
<polygon points="334.7,1304.5 339.9,1323.5 338.3,1324 334.7,1312.5 331.1,1324 329.5,1323.5" fill="#000"/>
<rect x="325.8" y="1540.3" width="4.1" height="20.7" fill="#000"/>
<text x="331.2" y="1562" font-size="16.7" stroke="#000" stroke-width="0.9" textLength="11.5" lengthAdjust="spacingAndGlyphs">D</text>
<path d="M318.6 1585L313.8 1589.5L313.8 1607.3L318.6 1611.8" fill="none" stroke="#000" stroke-width="1.9" stroke-linejoin="round"/>
<text x="323.9" y="1610" font-size="31" stroke="#000" stroke-width="0.75" textLength="18.9" lengthAdjust="spacingAndGlyphs">A</text>
<path d="M348 1585L352.8 1589.5L352.8 1607.3L348 1611.8" fill="none" stroke="#000" stroke-width="1.9" stroke-linejoin="round"/>
<text x="445.4" y="1907.3" font-size="34" stroke="#000" stroke-width="0.75" textLength="106" lengthAdjust="spacingAndGlyphs">Typical</text>
<text x="568.4" y="1907.3" font-size="34" stroke="#000" stroke-width="0.75" textLength="124.9" lengthAdjust="spacingAndGlyphs">Transfer</text>
<text x="708.5" y="1907.3" font-size="34" stroke="#000" stroke-width="0.75" textLength="227.1" lengthAdjust="spacingAndGlyphs">Characteristics</text>
<!-- chart 4 -->
<line x1="1269.9" y1="1772.1" x2="1272.7" y2="1228.4" stroke="#000" stroke-width="2.15"/>
<line x1="1300.4" y1="1772.3" x2="1303" y2="1228.6" stroke="#000" stroke-width="1.65"/>
<line x1="1330.8" y1="1772.4" x2="1333.4" y2="1228.8" stroke="#000" stroke-width="1.65"/>
<line x1="1361.2" y1="1772.6" x2="1363.7" y2="1229" stroke="#000" stroke-width="1.9500000000000002"/>
<line x1="1391.6" y1="1772.7" x2="1394.1" y2="1229.3" stroke="#000" stroke-width="2.15"/>
<line x1="1422.1" y1="1772.8" x2="1424.5" y2="1229.5" stroke="#000" stroke-width="2.95"/>
<line x1="1452.5" y1="1773" x2="1454.8" y2="1229.7" stroke="#000" stroke-width="2.95"/>
<line x1="1482.9" y1="1773.1" x2="1485.2" y2="1229.9" stroke="#000" stroke-width="1.9500000000000002"/>
<line x1="1513.3" y1="1773.2" x2="1515.5" y2="1230.1" stroke="#000" stroke-width="2.35"/>
<line x1="1543.8" y1="1773.4" x2="1545.9" y2="1230.3" stroke="#000" stroke-width="2.95"/>
<line x1="1574.2" y1="1773.5" x2="1576.3" y2="1230.5" stroke="#000" stroke-width="1.9500000000000002"/>
<line x1="1604.6" y1="1773.7" x2="1606.6" y2="1230.7" stroke="#000" stroke-width="1.9500000000000002"/>
<line x1="1635.1" y1="1773.8" x2="1637" y2="1230.9" stroke="#000" stroke-width="2.35"/>
<line x1="1665.5" y1="1773.9" x2="1667.4" y2="1231.2" stroke="#000" stroke-width="2.5500000000000003"/>
<line x1="1695.9" y1="1774.1" x2="1697.7" y2="1231.4" stroke="#000" stroke-width="1.9500000000000002"/>
<line x1="1726.3" y1="1774.2" x2="1728.1" y2="1231.6" stroke="#000" stroke-width="1.9500000000000002"/>
<line x1="1756.8" y1="1774.4" x2="1758.4" y2="1231.8" stroke="#000" stroke-width="1.65"/>
<line x1="1239.6" y1="1743.4" x2="1787.3" y2="1745.9" stroke="#000" stroke-width="1.9500000000000002"/>
<line x1="1239.8" y1="1714.8" x2="1787.4" y2="1717.4" stroke="#000" stroke-width="1.9500000000000002"/>
<line x1="1239.9" y1="1686.1" x2="1787.5" y2="1688.8" stroke="#000" stroke-width="1.9500000000000002"/>
<line x1="1240.1" y1="1657.5" x2="1787.5" y2="1660.3" stroke="#000" stroke-width="1.85"/>
<line x1="1240.2" y1="1628.9" x2="1787.6" y2="1631.7" stroke="#000" stroke-width="1.9500000000000002"/>
<line x1="1240.4" y1="1600.3" x2="1787.7" y2="1603.2" stroke="#000" stroke-width="2.25"/>
<line x1="1240.5" y1="1571.7" x2="1787.8" y2="1574.6" stroke="#000" stroke-width="1.9500000000000002"/>
<line x1="1240.7" y1="1543" x2="1787.9" y2="1546.1" stroke="#000" stroke-width="2.35"/>
<line x1="1240.8" y1="1514.4" x2="1788" y2="1517.5" stroke="#000" stroke-width="2.25"/>
<line x1="1241" y1="1485.8" x2="1788" y2="1489" stroke="#000" stroke-width="2.25"/>
<line x1="1241.1" y1="1457.2" x2="1788.1" y2="1460.4" stroke="#000" stroke-width="1.9500000000000002"/>
<line x1="1241.3" y1="1428.5" x2="1788.2" y2="1431.9" stroke="#000" stroke-width="2.35"/>
<line x1="1241.4" y1="1399.9" x2="1788.3" y2="1403.3" stroke="#000" stroke-width="2.15"/>
<line x1="1241.6" y1="1371.3" x2="1788.4" y2="1374.8" stroke="#000" stroke-width="1.9500000000000002"/>
<line x1="1241.7" y1="1342.7" x2="1788.5" y2="1346.2" stroke="#000" stroke-width="2.15"/>
<line x1="1241.9" y1="1314.1" x2="1788.5" y2="1317.7" stroke="#000" stroke-width="2.75"/>
<line x1="1242" y1="1285.4" x2="1788.6" y2="1289.1" stroke="#000" stroke-width="1.9500000000000002"/>
<line x1="1242.2" y1="1256.8" x2="1788.7" y2="1260.6" stroke="#000" stroke-width="1.9500000000000002"/>
<rect x="1270.8" y="1252.8" width="494.2" height="40.7" fill="#fff"/>
<rect x="1276" y="1327.2" width="335" height="33.8" fill="#fff"/>
<rect x="1688" y="1516" width="97.8" height="168.8" fill="#fff"/>
<line x1="1613.8" y1="1345.1" x2="1788.5" y2="1346.2" stroke="#000" stroke-width="2.5"/>
<line x1="1781.5" y1="1571.5" x2="1787.5" y2="1571.5" stroke="#000" stroke-width="1.6"/>
<line x1="1781.5" y1="1602.5" x2="1787.5" y2="1602.5" stroke="#000" stroke-width="1.6"/>
<line x1="1781.5" y1="1632" x2="1787.5" y2="1632" stroke="#000" stroke-width="1.6"/>
<line x1="1781.5" y1="1660.5" x2="1787.5" y2="1660.5" stroke="#000" stroke-width="1.6"/>
<polygon points="1242.3,1228.2 1788.8,1232 1787.2,1774.5 1239.5,1772" fill="none" stroke="#000" stroke-width="2.1"/>
<rect x="1270.3" y="1639.7" width="246.7" height="13.2" fill="#000"/>
<polygon points="1270.3,1640 1330.9,1635.6 1346,1640" fill="#000"/>
<polygon points="1405,1640 1446,1636.4 1458,1640" fill="#000"/>
<polygon points="1490,1640 1532,1636.2 1544,1640" fill="#000"/>
<polygon points="1516.6,1639.5 1564.8,1641.3 1661.7,1648.2 1661.7,1650.6 1516.6,1652.9" fill="#000"/>
<line x1="1270.3" y1="1657" x2="1667.8" y2="1657.4" stroke="#000" stroke-width="4.6"/>
<path d="M1320 1637.5C1321.8 1637.3 1326.7 1637.1 1330.9 1636.3C1335.1 1635.5 1341 1634.5 1345 1632.7C1349 1630.9 1351.7 1629 1355.1 1625.6C1358.5 1622.2 1362.5 1616.7 1365.2 1612.5C1367.9 1608.3 1369.7 1604.8 1371.2 1600.4C1372.7 1596 1373.6 1591.2 1374.3 1586.2C1375 1581.2 1375.1 1577.8 1375.3 1570.1C1375.5 1562.4 1375.5 1545 1375.6 1540" fill="none" stroke="#000" stroke-width="2.3" stroke-linecap="round"/>
<line x1="1375.6" y1="1545" x2="1376.2" y2="1370" stroke="#000" stroke-width="3.3"/>
<path d="M1420 1639.5C1422.3 1639.4 1428.8 1639.5 1433.8 1639C1438.8 1638.5 1445.3 1638.4 1450 1636.7C1454.7 1635 1458.4 1632 1462.1 1628.6C1465.8 1625.2 1469.3 1621.2 1472.2 1616.5C1475.1 1611.8 1477.5 1605.8 1479.2 1600.4C1480.9 1595 1481.6 1590.6 1482.3 1584.2C1483 1577.8 1483.3 1569.4 1483.5 1562C1483.7 1554.6 1483.6 1543.7 1483.6 1540" fill="none" stroke="#000" stroke-width="2.3" stroke-linecap="round"/>
<line x1="1483.6" y1="1548" x2="1483.6" y2="1370" stroke="#000" stroke-width="4.2"/>
<path d="M1505 1639.7C1506.9 1639.6 1511 1640 1516.6 1639.2C1522.2 1638.4 1531.4 1637.7 1538.8 1634.7C1546.2 1631.7 1555.4 1625 1560.8 1621.1C1566.2 1617.1 1568.2 1614.7 1570.9 1611C1573.6 1607.3 1575.5 1603.9 1576.9 1598.9C1578.3 1593.9 1578.8 1587.2 1579.3 1580.8C1579.8 1574.4 1579.7 1567.4 1579.7 1560.6C1579.7 1553.8 1579.5 1543.4 1579.4 1540" fill="none" stroke="#000" stroke-width="2.3" stroke-linecap="round"/>
<line x1="1579.5" y1="1548" x2="1578.7" y2="1370" stroke="#000" stroke-width="4.2"/>
<path d="M1516.3 1639.3C1522 1638.3 1539.2 1635.5 1550.7 1633.3C1562.2 1631.1 1579.3 1627.4 1585 1626.2" fill="none" stroke="#000" stroke-width="2.0" stroke-linecap="round"/>
<path d="M1536.5 1639.8C1543.8 1639.2 1567.5 1637.9 1580 1636C1592.5 1634.1 1606 1629.5 1611.2 1628.2" fill="none" stroke="#000" stroke-width="2.0" stroke-linecap="round"/>
<path d="M1564.8 1641C1570.7 1640.6 1589.6 1639.8 1600 1638.5C1610.4 1637.2 1622.8 1634.2 1627.4 1633.3" fill="none" stroke="#000" stroke-width="2.0" stroke-linecap="round"/>
<path d="M1601.1 1643.3C1605.9 1642.6 1620.6 1640.8 1630 1639C1639.4 1637.2 1653.1 1633.3 1657.7 1632.2" fill="none" stroke="#000" stroke-width="2.0" stroke-linecap="round"/>
<path d="M1560.8 1647C1570.7 1647.2 1602.5 1648.3 1620 1648.5C1637.5 1648.7 1658.1 1648.4 1665.7 1648.4" fill="none" stroke="#000" stroke-width="2.4" stroke-linecap="round"/>
<line x1="1702" y1="1532.3" x2="1574.9" y2="1625.2" stroke="#000" stroke-width="1.4"/>
<polygon points="1574.9,1625.2 1581.3,1617 1584.6,1621.6" fill="#000"/>
<line x1="1703" y1="1564.2" x2="1605.2" y2="1629.2" stroke="#000" stroke-width="1.4"/>
<polygon points="1605.2,1629.2 1612,1621.3 1615.1,1626" fill="#000"/>
<line x1="1702" y1="1593.9" x2="1617.3" y2="1635.3" stroke="#000" stroke-width="1.4"/>
<polygon points="1617.3,1635.3 1625.1,1628.4 1627.5,1633.4" fill="#000"/>
<line x1="1702" y1="1621.1" x2="1641.5" y2="1641.3" stroke="#000" stroke-width="1.4"/>
<polygon points="1641.5,1641.3 1650.1,1635.5 1651.9,1640.8" fill="#000"/>
<line x1="1705" y1="1645.8" x2="1657.7" y2="1650.4" stroke="#000" stroke-width="1.4"/>
<polygon points="1657.7,1650.4 1667.4,1646.6 1667.9,1652.2" fill="#000"/>
<line x1="1705" y1="1674" x2="1667.8" y2="1657.5" stroke="#000" stroke-width="1.4"/>
<polygon points="1667.8,1657.5 1678.1,1659 1675.8,1664.1" fill="#000"/>
<text x="1703.1" y="1540" font-size="22.5" stroke="#000" stroke-width="0.7" textLength="10.5" lengthAdjust="spacingAndGlyphs">6</text>
<rect x="1713.8" y="1537.5" width="2.2" height="2.5" fill="#000"/>
<text x="1724.5" y="1540" font-size="22.5" stroke="#000" stroke-width="0.7" textLength="11.6" lengthAdjust="spacingAndGlyphs">5</text>
<text x="1743.4" y="1540" font-size="22.5" stroke="#000" stroke-width="0.7" textLength="15.4" lengthAdjust="spacingAndGlyphs">V</text>
<text x="1703" y="1569.7" font-size="22.5" stroke="#000" stroke-width="0.7" textLength="10.8" lengthAdjust="spacingAndGlyphs">7</text>
<rect x="1713.8" y="1567.2" width="2.2" height="2.5" fill="#000"/>
<text x="1724.5" y="1569.7" font-size="22.5" stroke="#000" stroke-width="0.7" textLength="11.5" lengthAdjust="spacingAndGlyphs">0</text>
<text x="1743.4" y="1569.7" font-size="22.5" stroke="#000" stroke-width="0.7" textLength="15.4" lengthAdjust="spacingAndGlyphs">V</text>
<text x="1703" y="1599" font-size="22.5" stroke="#000" stroke-width="0.7" textLength="10.8" lengthAdjust="spacingAndGlyphs">7</text>
<rect x="1713.8" y="1596.5" width="2.2" height="2.5" fill="#000"/>
<text x="1724.5" y="1599" font-size="22.5" stroke="#000" stroke-width="0.7" textLength="11.6" lengthAdjust="spacingAndGlyphs">5</text>
<text x="1743.4" y="1599" font-size="22.5" stroke="#000" stroke-width="0.7" textLength="15.4" lengthAdjust="spacingAndGlyphs">V</text>
<text x="1703.2" y="1627" font-size="22.5" stroke="#000" stroke-width="0.7" textLength="10.4" lengthAdjust="spacingAndGlyphs">8</text>
<rect x="1713.8" y="1624.5" width="2.2" height="2.5" fill="#000"/>
<text x="1724.5" y="1627" font-size="22.5" stroke="#000" stroke-width="0.7" textLength="11.5" lengthAdjust="spacingAndGlyphs">0</text>
<text x="1743.4" y="1627" font-size="22.5" stroke="#000" stroke-width="0.7" textLength="15.4" lengthAdjust="spacingAndGlyphs">V</text>
<polygon points="1709.9,1638.4 1712.2,1638.4 1712.2,1654.5 1709.9,1654.5 1709.9,1641.9 1707,1644.3 1707,1642.3" fill="#000"/>
<text x="1724.5" y="1654.5" font-size="22.5" stroke="#000" stroke-width="0.7" textLength="11.7" lengthAdjust="spacingAndGlyphs">0</text>
<text x="1743.4" y="1654.5" font-size="22.5" stroke="#000" stroke-width="0.7" textLength="15.4" lengthAdjust="spacingAndGlyphs">V</text>
<text x="1705.5" y="1681.7" font-size="22.5" stroke="#000" stroke-width="0.7" textLength="11.6" lengthAdjust="spacingAndGlyphs">2</text>
<text x="1724.5" y="1681.7" font-size="22.5" stroke="#000" stroke-width="0.7" textLength="11.7" lengthAdjust="spacingAndGlyphs">0</text>
<text x="1743.4" y="1681.7" font-size="22.5" stroke="#000" stroke-width="0.7" textLength="15.4" lengthAdjust="spacingAndGlyphs">V</text>
<text x="1279" y="1280.6" font-size="22.6" stroke="#000" stroke-width="0.7" textLength="18.7" lengthAdjust="spacingAndGlyphs">R</text>
<text x="1296.9" y="1280.2" font-size="15" stroke="#000" stroke-width="0.8" textLength="19.5" lengthAdjust="spacingAndGlyphs" font-weight="bold">DS</text>
<text x="1316.9" y="1280.6" font-size="22.6" stroke="#000" stroke-width="0.7" textLength="6.9" lengthAdjust="spacingAndGlyphs">(</text>
<text x="1325.3" y="1280.6" font-size="18.5" stroke="#000" stroke-width="0.7" textLength="22.1" lengthAdjust="spacingAndGlyphs">on</text>
<text x="1347.9" y="1280.6" font-size="22.6" stroke="#000" stroke-width="0.7" textLength="6.9" lengthAdjust="spacingAndGlyphs">)</text>
<text x="1354.7" y="1280.6" font-size="22.6" stroke="#000" stroke-width="0.7" textLength="23.2" lengthAdjust="spacingAndGlyphs">=</text>
<text x="1381" y="1280.6" font-size="22.6" stroke="#000" stroke-width="0.7" textLength="8.7" lengthAdjust="spacingAndGlyphs">f</text>
<text x="1394.9" y="1280.6" font-size="22.6" stroke="#000" stroke-width="0.7" textLength="8" lengthAdjust="spacingAndGlyphs">(</text>
<text x="1408.4" y="1280.6" font-size="22.6" stroke="#000" stroke-width="0.7" textLength="9.4" lengthAdjust="spacingAndGlyphs">I</text>
<text x="1420" y="1280.2" font-size="15" stroke="#000" stroke-width="0.8" textLength="11.4" lengthAdjust="spacingAndGlyphs" font-weight="bold">D</text>
<text x="1433.8" y="1280.6" font-size="22.6" stroke="#000" stroke-width="0.7" textLength="8.2" lengthAdjust="spacingAndGlyphs">)</text>
<text x="1447.4" y="1280.6" font-size="22.6" stroke="#000" stroke-width="0.7" textLength="11.1" lengthAdjust="spacingAndGlyphs">:</text>
<text x="1460.3" y="1280.6" font-size="22.6" stroke="#000" stroke-width="0.7" textLength="24.3" lengthAdjust="spacingAndGlyphs">80</text>
<text x="1484.6" y="1280.6" font-size="22.6" stroke="#000" stroke-width="0.7" textLength="29" lengthAdjust="spacingAndGlyphs">μs</text>
<text x="1519.4" y="1280.6" font-size="22.6" stroke="#000" stroke-width="0.7" textLength="50.6" lengthAdjust="spacingAndGlyphs">pulse</text>
<text x="1581.6" y="1280.6" font-size="22.6" stroke="#000" stroke-width="0.7" textLength="41.9" lengthAdjust="spacingAndGlyphs">test,</text>
<text x="1642.5" y="1280.6" font-size="22.6" stroke="#000" stroke-width="0.7" textLength="17.1" lengthAdjust="spacingAndGlyphs">T</text>
<text x="1660.6" y="1280.6" font-size="19" stroke="#000" stroke-width="0.7" textLength="20.8" lengthAdjust="spacingAndGlyphs">ch</text>
<text x="1680.9" y="1280.6" font-size="22.6" stroke="#000" stroke-width="0.7" textLength="20.2" lengthAdjust="spacingAndGlyphs">=</text>
<text x="1703" y="1280.6" font-size="22.6" stroke="#000" stroke-width="0.7" textLength="13.7" lengthAdjust="spacingAndGlyphs">2</text>
<text x="1723.4" y="1280.6" font-size="22.6" stroke="#000" stroke-width="0.7" textLength="14.1" lengthAdjust="spacingAndGlyphs">5</text>
<text x="1736.9" y="1280.6" font-size="19" stroke="#000" stroke-width="0.7" textLength="7.4" lengthAdjust="spacingAndGlyphs">°</text>
<text x="1743.2" y="1280.6" font-size="22.6" stroke="#000" stroke-width="0.7" textLength="14.9" lengthAdjust="spacingAndGlyphs">C</text>
<text x="1292.2" y="1351.4" font-size="23.5" stroke="#000" stroke-width="0.7" textLength="16.4" lengthAdjust="spacingAndGlyphs">V</text>
<text x="1310.2" y="1351" font-size="15" stroke="#000" stroke-width="0.8" textLength="17.9" lengthAdjust="spacingAndGlyphs" font-weight="bold">GS</text>
<text x="1329.2" y="1351.4" font-size="23.5" stroke="#000" stroke-width="0.7" textLength="21.3" lengthAdjust="spacingAndGlyphs">=</text>
<text x="1350.4" y="1351.4" font-size="23.5" stroke="#000" stroke-width="0.7" textLength="11.5" lengthAdjust="spacingAndGlyphs">5</text>
<rect x="1363.5" y="1348.6" width="2.5" height="2.8" fill="#000"/>
<text x="1372" y="1351.4" font-size="23.5" stroke="#000" stroke-width="0.7" textLength="11.1" lengthAdjust="spacingAndGlyphs">0</text>
<text x="1388.8" y="1351.4" font-size="23.5" stroke="#000" stroke-width="0.7" textLength="15.4" lengthAdjust="spacingAndGlyphs">V</text>
<text x="1457.9" y="1351.4" font-size="23.5" stroke="#000" stroke-width="0.7" textLength="11.5" lengthAdjust="spacingAndGlyphs">5</text>
<rect x="1470.5" y="1348.6" width="2.5" height="2.8" fill="#000"/>
<text x="1479.8" y="1351.4" font-size="23.5" stroke="#000" stroke-width="0.7" textLength="11.2" lengthAdjust="spacingAndGlyphs">5</text>
<text x="1496.6" y="1351.4" font-size="23.5" stroke="#000" stroke-width="0.7" textLength="16.3" lengthAdjust="spacingAndGlyphs">V</text>
<text x="1550.9" y="1351.4" font-size="23.5" stroke="#000" stroke-width="0.7" textLength="12" lengthAdjust="spacingAndGlyphs">6</text>
<rect x="1564.5" y="1348.6" width="2.5" height="2.8" fill="#000"/>
<text x="1573.7" y="1351.4" font-size="23.5" stroke="#000" stroke-width="0.7" textLength="11.2" lengthAdjust="spacingAndGlyphs">0</text>
<text x="1589.9" y="1351.4" font-size="23.5" stroke="#000" stroke-width="0.7" textLength="15.7" lengthAdjust="spacingAndGlyphs">V</text>
<text x="1221.8" y="1319.6" font-size="20.5" stroke="#000" stroke-width="0.6" textLength="13.1" lengthAdjust="spacingAndGlyphs">8</text>
<text x="1218.1" y="1435.8" font-size="21.5" stroke="#000" stroke-width="0.6" textLength="14.5" lengthAdjust="spacingAndGlyphs">6</text>
<text x="1219.9" y="1546.8" font-size="20.5" stroke="#000" stroke-width="0.6" textLength="12.3" lengthAdjust="spacingAndGlyphs">4</text>
<text x="1219.1" y="1670.7" font-size="21.5" stroke="#000" stroke-width="0.6" textLength="13.7" lengthAdjust="spacingAndGlyphs">2</text>
<text x="1222" y="1773" font-size="20" stroke="#000" stroke-width="0.6" textLength="11.8" lengthAdjust="spacingAndGlyphs">0</text>
<text x="1232" y="1797.4" font-size="19.8" stroke="#000" stroke-width="0.6" textLength="14.4" lengthAdjust="spacingAndGlyphs">0</text>
<text x="1384.4" y="1797.4" font-size="20.5" stroke="#000" stroke-width="0.6" textLength="13.9" lengthAdjust="spacingAndGlyphs">5</text>
<polygon points="1538.8,1782.7 1541,1782.7 1541,1797.4 1538.8,1797.4 1538.8,1785.9 1536.9,1788.1 1536.9,1786.3" fill="#000"/>
<text x="1541.9" y="1797.4" font-size="20.5" stroke="#000" stroke-width="0.6" textLength="12.1" lengthAdjust="spacingAndGlyphs">0</text>
<polygon points="1686.8,1782.7 1689,1782.7 1689,1797.4 1686.8,1797.4 1686.8,1785.9 1684.9,1788.1 1684.9,1786.3" fill="#000"/>
<text x="1689.9" y="1797.4" font-size="20.5" stroke="#000" stroke-width="0.6" textLength="12.2" lengthAdjust="spacingAndGlyphs">5</text>
<text x="1703.5" y="1790" font-size="11" stroke="#000" stroke-width="0.75" textLength="4" lengthAdjust="spacingAndGlyphs">"</text>
<rect x="1607.8" y="1821.7" width="3.8" height="19.9" fill="#000"/>
<text x="1613.5" y="1842" font-size="16.5" stroke="#000" stroke-width="0.9" textLength="13.4" lengthAdjust="spacingAndGlyphs">D</text>
<path d="M1636.4 1818.6L1631.4 1823.1L1631.4 1839.3L1636.4 1843.8" fill="none" stroke="#000" stroke-width="1.9" stroke-linejoin="round"/>
<text x="1640.2" y="1841.6" font-size="27.8" stroke="#000" stroke-width="0.75" textLength="19" lengthAdjust="spacingAndGlyphs">A</text>
<path d="M1664.4 1818.6L1669.4 1823.1L1669.4 1839.3L1664.4 1843.8" fill="none" stroke="#000" stroke-width="1.9" stroke-linejoin="round"/>
<polygon points="1143.5,1309.2 1144.9,1309.2 1145.8,1504.6 1142.6,1504.6" fill="#000"/>
<polygon points="1144.2,1307.2 1149.4,1326.2 1147.8,1326.7 1144.2,1315.2 1140.6,1326.7 1139,1326.2" fill="#000"/>
<text x="1108.4" y="1564" font-size="27" stroke="#000" stroke-width="0.75" textLength="15.5" lengthAdjust="spacingAndGlyphs">R</text>
<text x="1124.7" y="1564.5" font-size="16.5" stroke="#000" stroke-width="0.75" textLength="55.1" lengthAdjust="spacingAndGlyphs">DS(ON)</text>
<path d="M1127.8 1590.7L1123 1595.2L1123 1611.1L1127.8 1615.6" fill="none" stroke="#000" stroke-width="1.9" stroke-linejoin="round"/>
<text x="1134.2" y="1614.8" font-size="27" stroke="#000" stroke-width="0.75" textLength="18.1" lengthAdjust="spacingAndGlyphs">Ω</text>
<path d="M1157.5 1590.7L1162.3 1595.2L1162.3 1611.1L1157.5 1615.6" fill="none" stroke="#000" stroke-width="1.9" stroke-linejoin="round"/>
<text x="1220.1" y="1910.2" font-size="33.5" stroke="#000" stroke-width="0.7" textLength="85.8" lengthAdjust="spacingAndGlyphs">Typical</text>
<text x="1313.1" y="1910.2" font-size="33.5" stroke="#000" stroke-width="0.7" textLength="162.4" lengthAdjust="spacingAndGlyphs">Drain-Source</text>
<text x="1484.3" y="1910.2" font-size="33.5" stroke="#000" stroke-width="0.7" textLength="108.6" lengthAdjust="spacingAndGlyphs">on-State</text>
<text x="1599.3" y="1910.2" font-size="33.5" stroke="#000" stroke-width="0.7" textLength="130.5" lengthAdjust="spacingAndGlyphs">Resistance</text>
<text x="1737.3" y="1910.2" font-size="33.5" stroke="#000" stroke-width="0.7" textLength="37.8" lengthAdjust="spacingAndGlyphs">vs.</text>
<rect x="1787.6" y="1886.5" width="4.2" height="23.7" fill="#000"/>
<text x="1793.8" y="1910.5" font-size="17.5" stroke="#000" stroke-width="0.8" textLength="14.4" lengthAdjust="spacingAndGlyphs">D</text>
<!-- chart 5 -->
<line x1="441.8" y1="2611.2" x2="443" y2="2280" stroke="#000" stroke-width="1.9500000000000002"/>
<line x1="443.1" y1="2270" x2="443.2" y2="2246" stroke="#000" stroke-width="1.9500000000000002"/>
<line x1="443.2" y1="2236" x2="443.3" y2="2212" stroke="#000" stroke-width="1.9500000000000002"/>
<line x1="443.3" y1="2200" x2="443.8" y2="2064" stroke="#000" stroke-width="1.9500000000000002"/>
<line x1="478.2" y1="2611.3" x2="480.5" y2="2064.2" stroke="#000" stroke-width="2.15"/>
<line x1="514.7" y1="2611.5" x2="517.1" y2="2064.4" stroke="#000" stroke-width="1.9500000000000002"/>
<line x1="551.2" y1="2611.7" x2="553.8" y2="2064.7" stroke="#000" stroke-width="2.35"/>
<line x1="587.6" y1="2611.8" x2="590.4" y2="2064.9" stroke="#000" stroke-width="2.25"/>
<line x1="624.1" y1="2612" x2="627.1" y2="2065.1" stroke="#000" stroke-width="1.9500000000000002"/>
<line x1="660.6" y1="2612.2" x2="662" y2="2361" stroke="#000" stroke-width="1.9500000000000002"/>
<line x1="662.2" y1="2333" x2="663" y2="2184" stroke="#000" stroke-width="1.9500000000000002"/>
<line x1="663.3" y1="2145" x2="663.7" y2="2065.3" stroke="#000" stroke-width="1.9500000000000002"/>
<line x1="697" y1="2612.3" x2="700.4" y2="2065.5" stroke="#000" stroke-width="2.35"/>
<line x1="733.5" y1="2612.5" x2="737" y2="2065.7" stroke="#000" stroke-width="1.9500000000000002"/>
<line x1="770" y1="2612.7" x2="771.3" y2="2415" stroke="#000" stroke-width="1.65"/>
<line x1="771.8" y1="2349" x2="773.7" y2="2065.9" stroke="#000" stroke-width="1.65"/>
<line x1="806.4" y1="2612.8" x2="810.3" y2="2066.1" stroke="#000" stroke-width="2.25"/>
<line x1="842.9" y1="2613" x2="847" y2="2066.4" stroke="#000" stroke-width="2.35"/>
<line x1="879.4" y1="2613.2" x2="883.6" y2="2066.6" stroke="#000" stroke-width="1.9500000000000002"/>
<line x1="915.8" y1="2613.3" x2="920.3" y2="2066.8" stroke="#000" stroke-width="1.9500000000000002"/>
<line x1="405.4" y1="2577.7" x2="952.6" y2="2580.3" stroke="#000" stroke-width="1.9500000000000002"/>
<line x1="405.5" y1="2543.3" x2="952.9" y2="2545.9" stroke="#000" stroke-width="2.35"/>
<line x1="405.7" y1="2509.3" x2="953.2" y2="2511.9" stroke="#000" stroke-width="2.35"/>
<line x1="405.8" y1="2474.9" x2="421" y2="2474.9" stroke="#000" stroke-width="1.9500000000000002"/>
<line x1="497.2" y1="2475.3" x2="520" y2="2475.4" stroke="#000" stroke-width="1.9500000000000002"/>
<line x1="530" y1="2475.5" x2="552" y2="2475.6" stroke="#000" stroke-width="1.9500000000000002"/>
<line x1="560" y1="2475.6" x2="953.4" y2="2477.5" stroke="#000" stroke-width="1.9500000000000002"/>
<line x1="405.9" y1="2440.8" x2="953.7" y2="2443.5" stroke="#000" stroke-width="2.35"/>
<line x1="406" y1="2405.7" x2="954" y2="2408.5" stroke="#000" stroke-width="2.25"/>
<line x1="432.6" y1="2370.6" x2="446" y2="2370.7" stroke="#000" stroke-width="2.35"/>
<line x1="456" y1="2370.7" x2="954.3" y2="2373.3" stroke="#000" stroke-width="2.35"/>
<line x1="406.3" y1="2335.3" x2="954.6" y2="2338.1" stroke="#000" stroke-width="1.9500000000000002"/>
<line x1="406.4" y1="2300.8" x2="954.9" y2="2303.7" stroke="#000" stroke-width="2.15"/>
<line x1="406.5" y1="2266.4" x2="955.2" y2="2269.3" stroke="#000" stroke-width="2.35"/>
<line x1="406.6" y1="2231.2" x2="445" y2="2231.4" stroke="#000" stroke-width="1.9500000000000002"/>
<line x1="514" y1="2231.8" x2="519" y2="2231.8" stroke="#000" stroke-width="1.9500000000000002"/>
<line x1="551" y1="2232" x2="556" y2="2232" stroke="#000" stroke-width="1.9500000000000002"/>
<line x1="660" y1="2232.6" x2="955.5" y2="2234.2" stroke="#000" stroke-width="1.9500000000000002"/>
<line x1="406.7" y1="2197.9" x2="955.8" y2="2200.9" stroke="#000" stroke-width="2.25"/>
<line x1="406.8" y1="2164.8" x2="956.1" y2="2167.8" stroke="#000" stroke-width="1.9500000000000002"/>
<line x1="407" y1="2131.5" x2="956.3" y2="2134.6" stroke="#000" stroke-width="1.9500000000000002"/>
<line x1="407.1" y1="2098.2" x2="956.6" y2="2101.3" stroke="#000" stroke-width="2.15"/>
<rect x="516.6" y="2085.5" width="330.1" height="58.7" fill="#fff"/>
<line x1="653.6" y1="2049" x2="951" y2="2050.6" stroke="#000" stroke-width="1.3"/>
<polygon points="407.2,2063.8 956.9,2067 952.3,2613.5 405.3,2611" fill="none" stroke="#000" stroke-width="2.7"/>
<path d="M405 2611.3C405.8 2606.1 407.3 2591.8 409.6 2580C411.9 2568.2 415.7 2553.2 418.9 2540.8C422.1 2528.4 424.8 2519.9 428.7 2505.6C432.6 2491.3 437.2 2472.1 442.4 2454.8C447.6 2437.5 454.1 2417.7 460 2402C465.9 2386.3 471.7 2373 477.6 2360.9C483.5 2348.8 488.5 2339.3 495.2 2329.3C501.9 2319.3 508.1 2311.7 517.9 2300.9C527.7 2290.1 541.6 2276.1 553.9 2264.5C566.2 2252.9 579.4 2240.9 591.8 2231.3C604.2 2221.7 616.1 2213.7 628.2 2207C640.3 2200.3 652.1 2195.6 664.2 2191C676.3 2186.4 688.5 2182.8 700.6 2179.6C712.7 2176.4 724.8 2174.2 737 2171.8C749.2 2169.5 761.5 2167.5 773.8 2165.5C786.1 2163.5 798.8 2161.8 810.9 2160C823 2158.2 834.6 2156.6 846.5 2155C858.4 2153.4 876.5 2151.1 882.5 2150.3" fill="none" stroke="#000" stroke-width="2.7" stroke-linecap="butt"/>
<text x="535.1" y="2109.8" font-size="21.5" stroke="#000" stroke-width="0.7" textLength="30.5" lengthAdjust="spacingAndGlyphs">gfs</text>
<text x="565.9" y="2109.8" font-size="21.5" stroke="#000" stroke-width="0.7" textLength="17.3" lengthAdjust="spacingAndGlyphs">=</text>
<text x="590.2" y="2109.8" font-size="21.5" stroke="#000" stroke-width="0.7" textLength="6.9" lengthAdjust="spacingAndGlyphs">f</text>
<text x="603.8" y="2109.8" font-size="21.5" stroke="#000" stroke-width="0.7" textLength="6.9" lengthAdjust="spacingAndGlyphs">(</text>
<text x="618.4" y="2109.8" font-size="21.5" stroke="#000" stroke-width="0.7" textLength="9.7" lengthAdjust="spacingAndGlyphs">I</text>
<text x="631.4" y="2109.4" font-size="15.7" stroke="#000" stroke-width="0.8" textLength="11.7" lengthAdjust="spacingAndGlyphs" font-weight="bold">D</text>
<text x="645" y="2109.8" font-size="21.5" stroke="#000" stroke-width="0.7" textLength="7.3" lengthAdjust="spacingAndGlyphs">)</text>
<text x="656.9" y="2109.8" font-size="21.5" stroke="#000" stroke-width="0.7" textLength="9.9" lengthAdjust="spacingAndGlyphs">:</text>
<text x="670.8" y="2109.8" font-size="21.5" stroke="#000" stroke-width="0.7" textLength="21" lengthAdjust="spacingAndGlyphs">80</text>
<text x="692.6" y="2109.8" font-size="21.5" stroke="#000" stroke-width="0.7" textLength="29.2" lengthAdjust="spacingAndGlyphs">μs</text>
<text x="729.4" y="2109.8" font-size="21.5" stroke="#000" stroke-width="0.7" textLength="52.1" lengthAdjust="spacingAndGlyphs">pulse</text>
<text x="790" y="2109.8" font-size="21.5" stroke="#000" stroke-width="0.7" textLength="44.5" lengthAdjust="spacingAndGlyphs">test,</text>
<text x="537.5" y="2134.1" font-size="22.5" stroke="#000" stroke-width="0.7" textLength="15.8" lengthAdjust="spacingAndGlyphs">V</text>
<text x="554.4" y="2133.7" font-size="16.2" stroke="#000" stroke-width="0.8" textLength="20.2" lengthAdjust="spacingAndGlyphs" font-weight="bold">DS</text>
<text x="575.7" y="2134.1" font-size="22.5" stroke="#000" stroke-width="0.7" textLength="18.7" lengthAdjust="spacingAndGlyphs">=</text>
<text x="599.2" y="2134.1" font-size="22.5" stroke="#000" stroke-width="0.7" textLength="10.4" lengthAdjust="spacingAndGlyphs">2</text>
<text x="618.6" y="2134.1" font-size="22.5" stroke="#000" stroke-width="0.7" textLength="10.3" lengthAdjust="spacingAndGlyphs">5</text>
<text x="633.5" y="2134.1" font-size="22.5" stroke="#000" stroke-width="0.7" textLength="16.9" lengthAdjust="spacingAndGlyphs">V</text>
<text x="685" y="2134.1" font-size="22.5" stroke="#000" stroke-width="0.7" textLength="15.4" lengthAdjust="spacingAndGlyphs">T</text>
<text x="701.8" y="2134.1" font-size="19" stroke="#000" stroke-width="0.7" textLength="19.2" lengthAdjust="spacingAndGlyphs">ch</text>
<text x="720.3" y="2134.1" font-size="22.5" stroke="#000" stroke-width="0.7" textLength="19.9" lengthAdjust="spacingAndGlyphs">=</text>
<text x="744.8" y="2134.1" font-size="22.5" stroke="#000" stroke-width="0.7" textLength="11.4" lengthAdjust="spacingAndGlyphs">2</text>
<text x="764.9" y="2134.1" font-size="22.5" stroke="#000" stroke-width="0.7" textLength="10.9" lengthAdjust="spacingAndGlyphs">5</text>
<text x="776" y="2134.1" font-size="19" stroke="#000" stroke-width="0.7" textLength="7.7" lengthAdjust="spacingAndGlyphs">°</text>
<text x="782.7" y="2134.1" font-size="22.5" stroke="#000" stroke-width="0.7" textLength="16.3" lengthAdjust="spacingAndGlyphs">C</text>
<text x="387.9" y="2069.7" font-size="19.8" stroke="#000" stroke-width="0.6" textLength="13.7" lengthAdjust="spacingAndGlyphs">8</text>
<text x="385.4" y="2203.9" font-size="19.8" stroke="#000" stroke-width="0.6" textLength="12.3" lengthAdjust="spacingAndGlyphs">6</text>
<text x="383.5" y="2341.9" font-size="19.8" stroke="#000" stroke-width="0.6" textLength="12.7" lengthAdjust="spacingAndGlyphs">4</text>
<text x="382.7" y="2483.9" font-size="21" stroke="#000" stroke-width="0.6" textLength="14.1" lengthAdjust="spacingAndGlyphs">2</text>
<text x="384.3" y="2606.5" font-size="19.8" stroke="#000" stroke-width="0.6" textLength="11.9" lengthAdjust="spacingAndGlyphs">0</text>
<text x="396.4" y="2633.9" font-size="21" stroke="#000" stroke-width="0.6" textLength="14.4" lengthAdjust="spacingAndGlyphs">0</text>
<text x="581.9" y="2632.1" font-size="22" stroke="#000" stroke-width="0.6" textLength="13.5" lengthAdjust="spacingAndGlyphs">5</text>
<polygon points="761.7,2620.7 764,2620.7 764,2636.5 761.7,2636.5 761.7,2624.2 759.6,2626.5 759.6,2624.6" fill="#000"/>
<text x="764.7" y="2636.5" font-size="22" stroke="#000" stroke-width="0.6" textLength="14.8" lengthAdjust="spacingAndGlyphs">0</text>
<polygon points="945.5,2624.5 947.9,2624.5 947.9,2641 945.5,2641 945.5,2628.1 943.3,2630.5 943.3,2628.5" fill="#000"/>
<text x="948.7" y="2641" font-size="23" stroke="#000" stroke-width="0.6" textLength="13.2" lengthAdjust="spacingAndGlyphs">5</text>
<rect x="766.6" y="2656" width="3.7" height="20.3" fill="#000"/>
<text x="771.1" y="2676.8" font-size="16.5" stroke="#000" stroke-width="0.9" textLength="15.1" lengthAdjust="spacingAndGlyphs">D</text>
<path d="M796.8 2652.9L791.8 2657.4L791.8 2674.9L796.8 2679.4" fill="none" stroke="#000" stroke-width="1.9" stroke-linejoin="round"/>
<text x="800.7" y="2676.5" font-size="28.5" stroke="#000" stroke-width="0.75" textLength="19.8" lengthAdjust="spacingAndGlyphs">A</text>
<path d="M824.4 2652.9L829.4 2657.4L829.4 2674.9L824.4 2679.4" fill="none" stroke="#000" stroke-width="1.9" stroke-linejoin="round"/>
<polygon points="310.1,2147.3 311.5,2147.3 312.4,2341.9 309.2,2341.9" fill="#000"/>
<polygon points="310.8,2145.3 316,2164.3 314.4,2164.8 310.8,2153.3 307.2,2164.8 305.6,2164.3" fill="#000"/>
<text x="288.9" y="2400" font-size="25.5" stroke="#000" stroke-width="0.75" textLength="40.3" lengthAdjust="spacingAndGlyphs">gfs</text>
<path d="M295 2427L290.5 2431.5L290.5 2447.1L295 2451.6" fill="none" stroke="#000" stroke-width="1.9" stroke-linejoin="round"/>
<text x="301.3" y="2449.8" font-size="28" stroke="#000" stroke-width="0.75" textLength="16.7" lengthAdjust="spacingAndGlyphs">S</text>
<path d="M323.9 2427L328.4 2431.5L328.4 2447.1L323.9 2451.6" fill="none" stroke="#000" stroke-width="1.9" stroke-linejoin="round"/>
<text x="387.1" y="2747" font-size="34.6" stroke="#000" stroke-width="0.7" textLength="100.8" lengthAdjust="spacingAndGlyphs">Typical</text>
<text x="495.5" y="2747" font-size="34.6" stroke="#000" stroke-width="0.7" textLength="117.3" lengthAdjust="spacingAndGlyphs">Forward</text>
<text x="621.2" y="2747" font-size="34.6" stroke="#000" stroke-width="0.7" textLength="251.5" lengthAdjust="spacingAndGlyphs">Transconductance</text>
<text x="884.4" y="2747" font-size="34.6" stroke="#000" stroke-width="0.7" textLength="40.6" lengthAdjust="spacingAndGlyphs">vs.</text>
<rect x="936.8" y="2722.2" width="4.1" height="24.8" fill="#000"/>
<text x="942.1" y="2747.3" font-size="18" stroke="#000" stroke-width="0.9" textLength="18.8" lengthAdjust="spacingAndGlyphs">D</text>
<!-- chart 6 -->
<line x1="1293" y1="2614.6" x2="1297.4" y2="2065.2" stroke="#000" stroke-width="1.9500000000000002"/>
<line x1="1329.5" y1="2614.6" x2="1333.6" y2="2065.4" stroke="#000" stroke-width="1.9500000000000002"/>
<line x1="1366" y1="2614.7" x2="1366.6" y2="2530" stroke="#000" stroke-width="2.35"/>
<line x1="1367.3" y1="2428" x2="1369.9" y2="2065.5" stroke="#000" stroke-width="2.35"/>
<line x1="1402.5" y1="2614.8" x2="1406.1" y2="2065.7" stroke="#000" stroke-width="1.9500000000000002"/>
<line x1="1439" y1="2614.8" x2="1442.4" y2="2065.9" stroke="#000" stroke-width="2.15"/>
<line x1="1475.5" y1="2614.9" x2="1477.4" y2="2272" stroke="#000" stroke-width="1.9500000000000002"/>
<line x1="1478.2" y1="2145" x2="1478.6" y2="2066.1" stroke="#000" stroke-width="1.9500000000000002"/>
<line x1="1512" y1="2615" x2="1514.9" y2="2066.3" stroke="#000" stroke-width="2.35"/>
<line x1="1548.5" y1="2615" x2="1551.1" y2="2066.4" stroke="#000" stroke-width="2.35"/>
<line x1="1585" y1="2615.1" x2="1587.4" y2="2066.6" stroke="#000" stroke-width="1.75"/>
<line x1="1621.5" y1="2615.2" x2="1622.9" y2="2263" stroke="#000" stroke-width="1.9500000000000002"/>
<line x1="1623.3" y1="2141" x2="1623.6" y2="2066.8" stroke="#000" stroke-width="1.9500000000000002"/>
<line x1="1658" y1="2615.2" x2="1659.3" y2="2240" stroke="#000" stroke-width="2.15"/>
<line x1="1659.5" y1="2166" x2="1659.9" y2="2067" stroke="#000" stroke-width="2.15"/>
<line x1="1694.5" y1="2615.3" x2="1696.1" y2="2067.2" stroke="#000" stroke-width="2.5500000000000003"/>
<line x1="1731" y1="2615.4" x2="1732.4" y2="2067.3" stroke="#000" stroke-width="1.9500000000000002"/>
<line x1="1767.5" y1="2615.4" x2="1768.6" y2="2067.5" stroke="#000" stroke-width="1.9500000000000002"/>
<line x1="1256.9" y1="2568.7" x2="1804.1" y2="2569.8" stroke="#000" stroke-width="1.9500000000000002"/>
<line x1="1257.3" y1="2522.9" x2="1278.7" y2="2523" stroke="#000" stroke-width="2.35"/>
<line x1="1427.4" y1="2523.3" x2="1804.2" y2="2524.2" stroke="#000" stroke-width="2.35"/>
<line x1="1257.7" y1="2477.1" x2="1269" y2="2477.2" stroke="#000" stroke-width="2.15"/>
<line x1="1366.7" y1="2477.4" x2="1370.6" y2="2477.4" stroke="#000" stroke-width="2.15"/>
<line x1="1411.7" y1="2477.5" x2="1804.2" y2="2478.6" stroke="#000" stroke-width="2.15"/>
<line x1="1258" y1="2431.3" x2="1271" y2="2431.4" stroke="#000" stroke-width="1.9500000000000002"/>
<line x1="1278.7" y1="2431.4" x2="1286.5" y2="2431.4" stroke="#000" stroke-width="1.9500000000000002"/>
<line x1="1331.5" y1="2431.5" x2="1337.4" y2="2431.6" stroke="#000" stroke-width="1.9500000000000002"/>
<line x1="1349" y1="2431.6" x2="1804.3" y2="2432.9" stroke="#000" stroke-width="1.9500000000000002"/>
<line x1="1258.4" y1="2385.5" x2="1804.4" y2="2387.2" stroke="#000" stroke-width="2.25"/>
<line x1="1258.8" y1="2339.8" x2="1804.5" y2="2341.6" stroke="#000" stroke-width="1.9500000000000002"/>
<line x1="1531" y1="2295" x2="1695" y2="2295.5" stroke="#000" stroke-width="1.5499999999999998"/>
<line x1="1776.5" y1="2295.8" x2="1804.5" y2="2295.9" stroke="#000" stroke-width="1.5499999999999998"/>
<line x1="1259.6" y1="2248.2" x2="1804.6" y2="2250.3" stroke="#000" stroke-width="2.25"/>
<line x1="1259.9" y1="2202.4" x2="1804.7" y2="2204.6" stroke="#000" stroke-width="2.45"/>
<line x1="1260.3" y1="2156.6" x2="1598" y2="2158.1" stroke="#000" stroke-width="1.85"/>
<line x1="1642" y1="2158.3" x2="1804.8" y2="2159" stroke="#000" stroke-width="1.85"/>
<line x1="1260.7" y1="2110.8" x2="1804.8" y2="2113.3" stroke="#000" stroke-width="1.9500000000000002"/>
<line x1="1369.3" y1="2430" x2="1368.4" y2="2528" stroke="#000" stroke-width="1.5" stroke-dasharray="11 5 2 5"/>
<line x1="1481.5" y1="2156.8" x2="1598" y2="2157.4" stroke="#000" stroke-width="2.4"/>
<rect x="1334.6" y="2086.5" width="401.2" height="38" fill="#fff"/>
<rect x="1697.5" y="2159.3" width="106" height="42" fill="#fff"/>
<rect x="1697.5" y="2291" width="78.1" height="40.5" fill="#fff"/>
<rect x="1697.5" y="2388.5" width="106" height="38.5" fill="#fff"/>
<rect x="1513.2" y="2606" width="251.8" height="12.5" fill="#fff"/>
<line x1="1548.7" y1="2604" x2="1548.5" y2="2615.2" stroke="#000" stroke-width="1.6"/>
<line x1="1585.2" y1="2604" x2="1585" y2="2615.2" stroke="#000" stroke-width="1.6"/>
<line x1="1621.7" y1="2604" x2="1621.5" y2="2615.2" stroke="#000" stroke-width="1.6"/>
<line x1="1658.2" y1="2604" x2="1658" y2="2615.2" stroke="#000" stroke-width="1.6"/>
<line x1="1694.7" y1="2604" x2="1694.5" y2="2615.2" stroke="#000" stroke-width="1.6"/>
<line x1="1731.2" y1="2604" x2="1731" y2="2615.2" stroke="#000" stroke-width="1.6"/>
<polygon points="1261.1,2065 1804.9,2067.7 1804,2615.5 1256.5,2614.5" fill="none" stroke="#000" stroke-width="2.7"/>
<rect x="1334.5" y="2062.5" width="361.5" height="6.1" fill="#fff"/>
<line x1="1334.5" y1="2065.3" x2="1478" y2="2066" stroke="#000" stroke-width="1.4" stroke-dasharray="14 9"/>
<line x1="1369.9" y1="2065" x2="1369.8" y2="2071.5" stroke="#000" stroke-width="1.7"/>
<line x1="1406.1" y1="2065.2" x2="1406" y2="2071.7" stroke="#000" stroke-width="1.7"/>
<line x1="1442.4" y1="2065.4" x2="1442.3" y2="2071.9" stroke="#000" stroke-width="1.7"/>
<line x1="1478.6" y1="2065.6" x2="1478.5" y2="2072.1" stroke="#000" stroke-width="1.7"/>
<line x1="1514.9" y1="2065.8" x2="1514.8" y2="2072.3" stroke="#000" stroke-width="1.7"/>
<line x1="1551.1" y1="2065.9" x2="1551" y2="2072.4" stroke="#000" stroke-width="1.7"/>
<line x1="1587.4" y1="2066.1" x2="1587.3" y2="2072.6" stroke="#000" stroke-width="1.7"/>
<line x1="1623.6" y1="2066.3" x2="1623.5" y2="2072.8" stroke="#000" stroke-width="1.7"/>
<line x1="1659.9" y1="2066.5" x2="1659.8" y2="2073" stroke="#000" stroke-width="1.7"/>
<rect x="1513.6" y="2612.4" width="251.4" height="6.1" fill="#fff"/>
<line x1="1548.6" y1="2606" x2="1548.5" y2="2616.2" stroke="#000" stroke-width="1.7"/>
<line x1="1585.1" y1="2606" x2="1585" y2="2616.2" stroke="#000" stroke-width="1.7"/>
<line x1="1621.6" y1="2606" x2="1621.5" y2="2616.2" stroke="#000" stroke-width="1.7"/>
<line x1="1658.1" y1="2606" x2="1658" y2="2616.2" stroke="#000" stroke-width="1.7"/>
<line x1="1694.6" y1="2606" x2="1694.5" y2="2616.2" stroke="#000" stroke-width="1.7"/>
<line x1="1731.1" y1="2606" x2="1731" y2="2616.2" stroke="#000" stroke-width="1.7"/>
<line x1="1261" y1="2143.2" x2="1804.4" y2="2227.4" stroke="#000" stroke-width="2.6" stroke-dasharray="17 10"/>
<path d="M1261 2279C1284.2 2282.2 1343.5 2290.2 1400 2298.5C1456.5 2306.8 1532.7 2318.6 1600 2329C1667.3 2339.4 1770 2355.6 1804 2360.9" fill="none" stroke="#000" stroke-width="2.7" stroke-linecap="butt"/>
<line x1="1258.5" y1="2368.7" x2="1804" y2="2452.8" stroke="#000" stroke-width="2.6" stroke-dasharray="17 10"/>
<text x="1345" y="2114.8" font-size="22.4" stroke="#000" stroke-width="0.7" textLength="17" lengthAdjust="spacingAndGlyphs">V</text>
<text x="1362.8" y="2114.4" font-size="15" stroke="#000" stroke-width="0.8" textLength="17.6" lengthAdjust="spacingAndGlyphs" font-weight="bold">GS</text>
<text x="1380.9" y="2114.8" font-size="22.4" stroke="#000" stroke-width="0.7" textLength="6.8" lengthAdjust="spacingAndGlyphs">(</text>
<text x="1391.7" y="2114.8" font-size="19" stroke="#000" stroke-width="0.7" textLength="20.1" lengthAdjust="spacingAndGlyphs">th</text>
<text x="1413.2" y="2114.8" font-size="22.4" stroke="#000" stroke-width="0.7" textLength="7.5" lengthAdjust="spacingAndGlyphs">)</text>
<text x="1419.2" y="2114.8" font-size="22.4" stroke="#000" stroke-width="0.7" textLength="20" lengthAdjust="spacingAndGlyphs">=</text>
<text x="1444.7" y="2114.8" font-size="22.4" stroke="#000" stroke-width="0.7" textLength="8" lengthAdjust="spacingAndGlyphs">f</text>
<text x="1459" y="2114.8" font-size="22.4" stroke="#000" stroke-width="0.7" textLength="6.9" lengthAdjust="spacingAndGlyphs">(</text>
<text x="1469.3" y="2114.8" font-size="22.4" stroke="#000" stroke-width="0.7" textLength="17.3" lengthAdjust="spacingAndGlyphs">T</text>
<text x="1488.3" y="2114.8" font-size="19" stroke="#000" stroke-width="0.7" textLength="19.2" lengthAdjust="spacingAndGlyphs">ch</text>
<text x="1508.6" y="2114.8" font-size="22.4" stroke="#000" stroke-width="0.7" textLength="7.5" lengthAdjust="spacingAndGlyphs">)</text>
<text x="1520.3" y="2114.8" font-size="22.4" stroke="#000" stroke-width="0.7" textLength="10.8" lengthAdjust="spacingAndGlyphs">:</text>
<text x="1537.3" y="2114.8" font-size="22.4" stroke="#000" stroke-width="0.7" textLength="18.5" lengthAdjust="spacingAndGlyphs">V</text>
<text x="1556.2" y="2114.4" font-size="15" stroke="#000" stroke-width="0.8" textLength="19" lengthAdjust="spacingAndGlyphs" font-weight="bold">DS</text>
<text x="1575.9" y="2114.8" font-size="22.4" stroke="#000" stroke-width="0.7" textLength="20.8" lengthAdjust="spacingAndGlyphs">=</text>
<text x="1596.4" y="2114.8" font-size="22.4" stroke="#000" stroke-width="0.7" textLength="18.5" lengthAdjust="spacingAndGlyphs">V</text>
<text x="1615.7" y="2114.4" font-size="15" stroke="#000" stroke-width="0.8" textLength="22.6" lengthAdjust="spacingAndGlyphs" font-weight="bold">GS,</text>
<text x="1647.8" y="2114.8" font-size="22.4" stroke="#000" stroke-width="0.7" textLength="11.7" lengthAdjust="spacingAndGlyphs">I</text>
<text x="1662.1" y="2114.4" font-size="15" stroke="#000" stroke-width="0.8" textLength="10.7" lengthAdjust="spacingAndGlyphs" font-weight="bold">D</text>
<text x="1675.1" y="2114.8" font-size="22.4" stroke="#000" stroke-width="0.7" textLength="20" lengthAdjust="spacingAndGlyphs">=</text>
<polygon points="1701.9,2098.8 1704.2,2098.8 1704.2,2114.8 1701.9,2114.8 1701.9,2102.3 1699.5,2104.6 1699.5,2102.7" fill="#000"/>
<text x="1710.7" y="2114.8" font-size="19.5" stroke="#000" stroke-width="0.7" textLength="20.6" lengthAdjust="spacingAndGlyphs">mA</text>
<text x="1707.4" y="2189" font-size="23.7" stroke="#000" stroke-width="0.7" textLength="20.1" lengthAdjust="spacingAndGlyphs">m</text>
<text x="1731.1" y="2189" font-size="23.7" stroke="#000" stroke-width="0.7" textLength="12.4" lengthAdjust="spacingAndGlyphs">a</text>
<text x="1750.8" y="2189" font-size="23.7" stroke="#000" stroke-width="0.7" textLength="12.5" lengthAdjust="spacingAndGlyphs">x</text>
<rect x="1768" y="2185.7" width="3" height="3.3" fill="#000"/>
<text x="1708.6" y="2321.3" font-size="23.7" stroke="#000" stroke-width="0.7" textLength="8.2" lengthAdjust="spacingAndGlyphs">t</text>
<text x="1723.9" y="2321.3" font-size="23.7" stroke="#000" stroke-width="0.7" textLength="12.1" lengthAdjust="spacingAndGlyphs">y</text>
<text x="1741.8" y="2321.3" font-size="23.7" stroke="#000" stroke-width="0.7" textLength="14.8" lengthAdjust="spacingAndGlyphs">p</text>
<rect x="1760" y="2318" width="3" height="3.3" fill="#000"/>
<text x="1702.8" y="2416.4" font-size="23.7" stroke="#000" stroke-width="0.7" textLength="20.2" lengthAdjust="spacingAndGlyphs">m</text>
<text x="1728.3" y="2416.4" font-size="23.7" stroke="#000" stroke-width="0.7" textLength="6.7" lengthAdjust="spacingAndGlyphs">i</text>
<text x="1739.7" y="2416.4" font-size="23.7" stroke="#000" stroke-width="0.7" textLength="15.7" lengthAdjust="spacingAndGlyphs">n</text>
<rect x="1762" y="2413.1" width="3" height="3.3" fill="#000"/>
<text x="1242" y="2073.5" font-size="19.8" stroke="#000" stroke-width="0.6" textLength="13.9" lengthAdjust="spacingAndGlyphs">6</text>
<text x="1240.1" y="2255.5" font-size="19.8" stroke="#000" stroke-width="0.6" textLength="12.9" lengthAdjust="spacingAndGlyphs">4</text>
<text x="1236.7" y="2438.7" font-size="21.5" stroke="#000" stroke-width="0.6" textLength="14.3" lengthAdjust="spacingAndGlyphs">2</text>
<text x="1237.1" y="2609" font-size="20.5" stroke="#000" stroke-width="0.6" textLength="13" lengthAdjust="spacingAndGlyphs">0</text>
<text x="1248.5" y="2641" font-size="20.5" stroke="#000" stroke-width="0.6" textLength="13.3" lengthAdjust="spacingAndGlyphs">0</text>
<text x="1426.6" y="2641.8" font-size="21.5" stroke="#000" stroke-width="0.6" textLength="26.1" lengthAdjust="spacingAndGlyphs">50</text>
<polygon points="1608.5,2626.4 1610.7,2626.4 1610.7,2641.8 1608.5,2641.8 1608.5,2629.8 1606.4,2632 1606.4,2630.1" fill="#000"/>
<text x="1611.5" y="2641.8" font-size="21.5" stroke="#000" stroke-width="0.6" textLength="26.7" lengthAdjust="spacingAndGlyphs">00</text>
<polygon points="1789.5,2627.3 1791.8,2627.3 1791.8,2642.7 1789.5,2642.7 1789.5,2630.7 1787.5,2632.9 1787.5,2631" fill="#000"/>
<text x="1792.6" y="2642.7" font-size="21.5" stroke="#000" stroke-width="0.6" textLength="26.7" lengthAdjust="spacingAndGlyphs">50</text>
<text x="1579" y="2679.4" font-size="29" stroke="#000" stroke-width="0.75" textLength="16.3" lengthAdjust="spacingAndGlyphs">T</text>
<text x="1597.5" y="2679.8" font-size="19" stroke="#000" stroke-width="0.75" textLength="15.5" lengthAdjust="spacingAndGlyphs">ch</text>
<path d="M1623.7 2655L1618.7 2659.5L1618.7 2677.1L1623.7 2681.6" fill="none" stroke="#000" stroke-width="1.9" stroke-linejoin="round"/>
<text x="1625.5" y="2669" font-size="24" stroke="#000" stroke-width="0.75" textLength="8" lengthAdjust="spacingAndGlyphs">°</text>
<text x="1635" y="2679.4" font-size="29" stroke="#000" stroke-width="0.75" textLength="17.7" lengthAdjust="spacingAndGlyphs">C</text>
<path d="M1658.8 2655L1663.8 2659.5L1663.8 2677.1L1658.8 2681.6" fill="none" stroke="#000" stroke-width="1.9" stroke-linejoin="round"/>
<polygon points="1163.8,2149.1 1165.2,2149.1 1166.1,2344.5 1162.9,2344.5" fill="#000"/>
<polygon points="1164.5,2147.1 1169.7,2166.1 1168.1,2166.6 1164.5,2155.1 1160.9,2166.6 1159.3,2166.1" fill="#000"/>
<text x="1131" y="2404.4" font-size="27.8" stroke="#000" stroke-width="0.75" textLength="16.7" lengthAdjust="spacingAndGlyphs">V</text>
<text x="1149" y="2405" font-size="16.5" stroke="#000" stroke-width="0.75" textLength="47.8" lengthAdjust="spacingAndGlyphs">GS(th)</text>
<path d="M1147.4 2431L1142.6 2435.5L1142.6 2451L1147.4 2455.5" fill="none" stroke="#000" stroke-width="1.9" stroke-linejoin="round"/>
<text x="1151.4" y="2452.9" font-size="27.1" stroke="#000" stroke-width="0.3" textLength="23.6" lengthAdjust="spacingAndGlyphs">V</text>
<path d="M1179.1 2431L1183.9 2435.5L1183.9 2451L1179.1 2455.5" fill="none" stroke="#000" stroke-width="1.9" stroke-linejoin="round"/>
<text x="1288.8" y="2750" font-size="35" stroke="#000" stroke-width="0.7" textLength="71.7" lengthAdjust="spacingAndGlyphs">Gate</text>
<text x="1376" y="2750" font-size="35" stroke="#000" stroke-width="0.7" textLength="148.6" lengthAdjust="spacingAndGlyphs">Threshold</text>
<text x="1537.7" y="2750" font-size="35" stroke="#000" stroke-width="0.7" textLength="116.6" lengthAdjust="spacingAndGlyphs">Voltage</text>
<text x="1667.1" y="2750" font-size="35" stroke="#000" stroke-width="0.7" textLength="41.6" lengthAdjust="spacingAndGlyphs">vs.</text>
<text x="1724.9" y="2750" font-size="35" stroke="#000" stroke-width="0.7" textLength="21.3" lengthAdjust="spacingAndGlyphs">T</text>
<text x="1746.9" y="2750" font-size="21" stroke="#000" stroke-width="0.7" textLength="21.1" lengthAdjust="spacingAndGlyphs">ch</text>
<rect x="1511.8" y="2543.7" width="360" height="61" fill="#fff" fill-opacity="0.66"/>
<text x="1525" y="2586" font-size="28" stroke="#8a8a8a" stroke-width="0.8" textLength="334" lengthAdjust="spacingAndGlyphs" font-weight="bold" fill="#8a8a8a">www.DataSheet4U.com</text>
<text x="77.9" y="2783" font-size="32.2" textLength="162.4" lengthAdjust="spacingAndGlyphs" fill="#c4c4c4">DataSheet</text>
<text x="243" y="2782.8" font-size="41" textLength="23" lengthAdjust="spacingAndGlyphs" font-weight="bold" fill="#c4c4c4">4</text>
<text x="275" y="2783" font-size="32.2" textLength="20.5" lengthAdjust="spacingAndGlyphs" fill="#c4c4c4">U</text>
<text x="303" y="2783" font-size="32.2" textLength="76" lengthAdjust="spacingAndGlyphs" fill="#c4c4c4">.com</text>
</svg>
</body></html>
